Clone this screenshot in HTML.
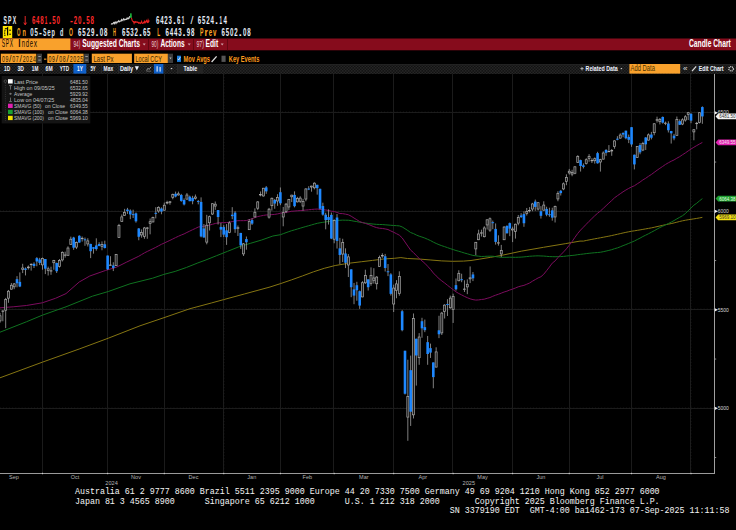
<!DOCTYPE html><html><head><meta charset="utf-8"><style>
html,body{margin:0;padding:0;background:#000;width:736px;height:530px;overflow:hidden}
svg{display:block}
text{font-family:"Liberation Sans",sans-serif}
.m{font-family:"Liberation Mono",monospace}
</style></head><body>
<svg width="736" height="530" viewBox="0 0 736 530">
<rect x="0" y="0" width="736" height="530" fill="#000"/>

<text x="3.4" y="24" font-size="11" fill="#e8eef8" font-weight="bold" textLength="3.4" lengthAdjust="spacingAndGlyphs">S</text>
<text x="8.05" y="24" font-size="11" fill="#e8eef8" font-weight="bold" textLength="3.4" lengthAdjust="spacingAndGlyphs">P</text>
<text x="12.7" y="24" font-size="11" fill="#e8eef8" font-weight="bold" textLength="3.4" lengthAdjust="spacingAndGlyphs">X</text>
<path d="M25.2 16 V24.6 M23.8 22.6 L25.2 24.8 L26.6 22.6" stroke="#ff2a2a" stroke-width="0.9" fill="none"/>
<text x="32" y="24" font-size="11" fill="#ff2a2a" font-weight="bold" textLength="3.4" lengthAdjust="spacingAndGlyphs">6</text>
<text x="36.07" y="24" font-size="11" fill="#ff2a2a" font-weight="bold" textLength="3.4" lengthAdjust="spacingAndGlyphs">4</text>
<text x="40.13" y="24" font-size="11" fill="#ff2a2a" font-weight="bold" textLength="3.4" lengthAdjust="spacingAndGlyphs">8</text>
<text x="44.63" y="24" font-size="11" fill="#ff2a2a" font-weight="bold" textLength="2.55" lengthAdjust="spacingAndGlyphs">1</text>
<text x="49.97" y="24" font-size="11" fill="#ff2a2a" font-weight="bold" text-anchor="middle">.</text>
<text x="52.33" y="24" font-size="11" fill="#ff2a2a" font-weight="bold" textLength="3.4" lengthAdjust="spacingAndGlyphs">5</text>
<text x="56.4" y="24" font-size="11" fill="#ff2a2a" font-weight="bold" textLength="3.4" lengthAdjust="spacingAndGlyphs">0</text>
<text x="69.96" y="24" font-size="11" fill="#ff2a2a" font-weight="bold" textLength="2.89" lengthAdjust="spacingAndGlyphs">-</text>
<text x="73.84" y="24" font-size="11" fill="#ff2a2a" font-weight="bold" textLength="3.4" lengthAdjust="spacingAndGlyphs">2</text>
<text x="77.98" y="24" font-size="11" fill="#ff2a2a" font-weight="bold" textLength="3.4" lengthAdjust="spacingAndGlyphs">0</text>
<text x="83.82" y="24" font-size="11" fill="#ff2a2a" font-weight="bold" text-anchor="middle">.</text>
<text x="86.26" y="24" font-size="11" fill="#ff2a2a" font-weight="bold" textLength="3.4" lengthAdjust="spacingAndGlyphs">5</text>
<text x="90.4" y="24" font-size="11" fill="#ff2a2a" font-weight="bold" textLength="3.4" lengthAdjust="spacingAndGlyphs">8</text>
<polyline points="111,23.73 111.5,24.1 112,23.61 112.5,23.85 113,23.71 113.5,22.52 114,22.24 114.5,23.55 115,22.33 115.5,22.1 116,23.29 116.5,22.17 117,22.65 117.5,21.82 118,21.93 118.5,20.87 119,21.56 119.5,21.8 120,21 120.5,21.21 121,20.91 121.5,19.64 122,20.7 122.5,20.22 123,19.52 123.5,18.86 124,20.18 124.5,19.29 125,19.55 125.5,19.66 126,19.19 126.5,19.38 127,18.25 127.5,18.8 128,17.98 128.5,18.68 129,18.4 129.5,16.82 130,16.7 130.2,17.4" fill="none" stroke="#d0d0d0" stroke-width="1.1"/>
<polyline points="130.4,17.6 130.9,13.4 131.4,17.8" fill="none" stroke="#20c040" stroke-width="1"/>
<polyline points="131.4,17.8 132.2,20.5 133.2,21.6 133.6,21.52 134.1,23.32 134.6,22.05 135.1,22.5 135.6,21.72 136.1,22.22 136.6,21.93 137.1,21.84 137.6,22.4 138.1,22.4 138.6,23.17 139.1,22.64 139.6,23.23 140.1,23.06 140.6,23.38 141.1,22.61 141.6,21.39 142.1,23.07 142.6,23.32 143.1,23.17 143.6,22.37 144.1,22.69 144.6,21.36 145.1,22.72 145.6,21.98 146.1,21.16 146.6,20.5 147.1,22.27 147.6,22.48 148.1,20.19 148.6,21.77 149.1,20.71 149.2,20.3" fill="none" stroke="#e82020" stroke-width="1.1"/>
<text x="155.9" y="24" font-size="11" fill="#e8eef8" font-weight="bold" textLength="3.4" lengthAdjust="spacingAndGlyphs">6</text>
<text x="160.13" y="24" font-size="11" fill="#e8eef8" font-weight="bold" textLength="3.4" lengthAdjust="spacingAndGlyphs">4</text>
<text x="164.37" y="24" font-size="11" fill="#e8eef8" font-weight="bold" textLength="3.4" lengthAdjust="spacingAndGlyphs">2</text>
<text x="168.6" y="24" font-size="11" fill="#e8eef8" font-weight="bold" textLength="3.4" lengthAdjust="spacingAndGlyphs">3</text>
<text x="174.53" y="24" font-size="11" fill="#e8eef8" font-weight="bold" text-anchor="middle">.</text>
<text x="177.07" y="24" font-size="11" fill="#e8eef8" font-weight="bold" textLength="3.4" lengthAdjust="spacingAndGlyphs">6</text>
<text x="181.72" y="24" font-size="11" fill="#e8eef8" font-weight="bold" textLength="2.55" lengthAdjust="spacingAndGlyphs">1</text>
<text x="190.45" y="24" font-size="11" fill="#e8eef8" font-weight="normal" textLength="2.89" lengthAdjust="spacingAndGlyphs">/</text>
<text x="197.7" y="24" font-size="11" fill="#e8eef8" font-weight="bold" textLength="3.4" lengthAdjust="spacingAndGlyphs">6</text>
<text x="202" y="24" font-size="11" fill="#e8eef8" font-weight="bold" textLength="3.4" lengthAdjust="spacingAndGlyphs">5</text>
<text x="206.3" y="24" font-size="11" fill="#e8eef8" font-weight="bold" textLength="3.4" lengthAdjust="spacingAndGlyphs">2</text>
<text x="210.6" y="24" font-size="11" fill="#e8eef8" font-weight="bold" textLength="3.4" lengthAdjust="spacingAndGlyphs">4</text>
<text x="216.6" y="24" font-size="11" fill="#e8eef8" font-weight="bold" text-anchor="middle">.</text>
<text x="219.62" y="24" font-size="11" fill="#e8eef8" font-weight="bold" textLength="2.55" lengthAdjust="spacingAndGlyphs">1</text>
<text x="223.5" y="24" font-size="11" fill="#e8eef8" font-weight="bold" textLength="3.4" lengthAdjust="spacingAndGlyphs">4</text>
<rect x="2.8" y="26" width="9.4" height="12" fill="#ffe400"/>
<path d="M5.6 28.2 Q4.1 31.8 5.0 35.8" stroke="#000" stroke-width="1.1" fill="none" stroke-dasharray="1.1 0.6"/>
<path d="M6.4 29.2 L7.6 27.8 V35.6" stroke="#000" stroke-width="1.2" fill="none"/>
<rect x="9.4" y="29.6" width="1.3" height="1.3" fill="#000"/><rect x="9.4" y="33.6" width="1.3" height="1.3" fill="#000"/>
<text x="17" y="35.8" font-size="11" fill="#ffa424" font-weight="bold" textLength="3.4" lengthAdjust="spacingAndGlyphs">O</text>
<text x="22.4" y="35.8" font-size="11" fill="#ffa424" font-weight="bold" textLength="3.4" lengthAdjust="spacingAndGlyphs">n</text>
<text x="30.2" y="35.8" font-size="11" fill="#dfe6f0" font-weight="bold" textLength="3.4" lengthAdjust="spacingAndGlyphs">0</text>
<text x="34.47" y="35.8" font-size="11" fill="#dfe6f0" font-weight="bold" textLength="3.4" lengthAdjust="spacingAndGlyphs">5</text>
<text x="39" y="35.8" font-size="11" fill="#dfe6f0" font-weight="bold" textLength="2.89" lengthAdjust="spacingAndGlyphs">-</text>
<text x="43.01" y="35.8" font-size="11" fill="#dfe6f0" font-weight="bold" textLength="3.4" lengthAdjust="spacingAndGlyphs">S</text>
<text x="47.29" y="35.8" font-size="11" fill="#dfe6f0" font-weight="bold" textLength="3.4" lengthAdjust="spacingAndGlyphs">e</text>
<text x="51.56" y="35.8" font-size="11" fill="#dfe6f0" font-weight="bold" textLength="3.4" lengthAdjust="spacingAndGlyphs">p</text>
<text x="60.1" y="35.8" font-size="11" fill="#dfe6f0" font-weight="bold" textLength="3.4" lengthAdjust="spacingAndGlyphs">d</text>
<text x="69.1" y="35.8" font-size="11" fill="#ffa424" font-weight="bold" textLength="3.9" lengthAdjust="spacingAndGlyphs">O</text>
<text x="78" y="35.8" font-size="11" fill="#e8eef8" font-weight="bold" textLength="3.4" lengthAdjust="spacingAndGlyphs">6</text>
<text x="82.33" y="35.8" font-size="11" fill="#e8eef8" font-weight="bold" textLength="3.4" lengthAdjust="spacingAndGlyphs">5</text>
<text x="86.67" y="35.8" font-size="11" fill="#e8eef8" font-weight="bold" textLength="3.4" lengthAdjust="spacingAndGlyphs">2</text>
<text x="91" y="35.8" font-size="11" fill="#e8eef8" font-weight="bold" textLength="3.4" lengthAdjust="spacingAndGlyphs">9</text>
<text x="97.03" y="35.8" font-size="11" fill="#e8eef8" font-weight="bold" text-anchor="middle">.</text>
<text x="99.67" y="35.8" font-size="11" fill="#e8eef8" font-weight="bold" textLength="3.4" lengthAdjust="spacingAndGlyphs">0</text>
<text x="104" y="35.8" font-size="11" fill="#e8eef8" font-weight="bold" textLength="3.4" lengthAdjust="spacingAndGlyphs">8</text>
<text x="113" y="35.8" font-size="11" fill="#ffa424" font-weight="bold" textLength="2.9" lengthAdjust="spacingAndGlyphs">H</text>
<text x="122" y="35.8" font-size="11" fill="#e8eef8" font-weight="bold" textLength="3.4" lengthAdjust="spacingAndGlyphs">6</text>
<text x="126.18" y="35.8" font-size="11" fill="#e8eef8" font-weight="bold" textLength="3.4" lengthAdjust="spacingAndGlyphs">5</text>
<text x="130.37" y="35.8" font-size="11" fill="#e8eef8" font-weight="bold" textLength="3.4" lengthAdjust="spacingAndGlyphs">3</text>
<text x="134.55" y="35.8" font-size="11" fill="#e8eef8" font-weight="bold" textLength="3.4" lengthAdjust="spacingAndGlyphs">2</text>
<text x="140.43" y="35.8" font-size="11" fill="#e8eef8" font-weight="bold" text-anchor="middle">.</text>
<text x="142.92" y="35.8" font-size="11" fill="#e8eef8" font-weight="bold" textLength="3.4" lengthAdjust="spacingAndGlyphs">6</text>
<text x="147.1" y="35.8" font-size="11" fill="#e8eef8" font-weight="bold" textLength="3.4" lengthAdjust="spacingAndGlyphs">5</text>
<text x="157.3" y="35.8" font-size="11" fill="#ffa424" font-weight="bold" textLength="2.9" lengthAdjust="spacingAndGlyphs">L</text>
<text x="165.4" y="35.8" font-size="11" fill="#e8eef8" font-weight="bold" textLength="3.4" lengthAdjust="spacingAndGlyphs">6</text>
<text x="169.65" y="35.8" font-size="11" fill="#e8eef8" font-weight="bold" textLength="3.4" lengthAdjust="spacingAndGlyphs">4</text>
<text x="173.9" y="35.8" font-size="11" fill="#e8eef8" font-weight="bold" textLength="3.4" lengthAdjust="spacingAndGlyphs">4</text>
<text x="178.15" y="35.8" font-size="11" fill="#e8eef8" font-weight="bold" textLength="3.4" lengthAdjust="spacingAndGlyphs">3</text>
<text x="184.1" y="35.8" font-size="11" fill="#e8eef8" font-weight="bold" text-anchor="middle">.</text>
<text x="186.65" y="35.8" font-size="11" fill="#e8eef8" font-weight="bold" textLength="3.4" lengthAdjust="spacingAndGlyphs">9</text>
<text x="190.9" y="35.8" font-size="11" fill="#e8eef8" font-weight="bold" textLength="3.4" lengthAdjust="spacingAndGlyphs">8</text>
<text x="200.1" y="35.8" font-size="11" fill="#ffa424" font-weight="bold" textLength="3.4" lengthAdjust="spacingAndGlyphs">P</text>
<text x="204.4" y="35.8" font-size="11" fill="#ffa424" font-weight="bold" textLength="3.4" lengthAdjust="spacingAndGlyphs">r</text>
<text x="208.7" y="35.8" font-size="11" fill="#ffa424" font-weight="bold" textLength="3.4" lengthAdjust="spacingAndGlyphs">e</text>
<text x="213" y="35.8" font-size="11" fill="#ffa424" font-weight="bold" textLength="3.4" lengthAdjust="spacingAndGlyphs">v</text>
<text x="221.4" y="35.8" font-size="11" fill="#e8eef8" font-weight="bold" textLength="3.4" lengthAdjust="spacingAndGlyphs">6</text>
<text x="225.72" y="35.8" font-size="11" fill="#e8eef8" font-weight="bold" textLength="3.4" lengthAdjust="spacingAndGlyphs">5</text>
<text x="230.03" y="35.8" font-size="11" fill="#e8eef8" font-weight="bold" textLength="3.4" lengthAdjust="spacingAndGlyphs">0</text>
<text x="234.35" y="35.8" font-size="11" fill="#e8eef8" font-weight="bold" textLength="3.4" lengthAdjust="spacingAndGlyphs">2</text>
<text x="240.37" y="35.8" font-size="11" fill="#e8eef8" font-weight="bold" text-anchor="middle">.</text>
<text x="242.98" y="35.8" font-size="11" fill="#e8eef8" font-weight="bold" textLength="3.4" lengthAdjust="spacingAndGlyphs">0</text>
<text x="247.3" y="35.8" font-size="11" fill="#e8eef8" font-weight="bold" textLength="3.4" lengthAdjust="spacingAndGlyphs">8</text>
<rect x="0" y="38.5" width="736" height="11.8" fill="#860c1c"/>
<rect x="0" y="38.5" width="70.4" height="11.6" fill="#f9a12c"/>
<text x="1.8" y="47.3" font-size="10.5" fill="#100800" font-weight="normal" textLength="3.3" lengthAdjust="spacingAndGlyphs">S</text>
<text x="5.79" y="47.3" font-size="10.5" fill="#100800" font-weight="normal" textLength="3.3" lengthAdjust="spacingAndGlyphs">P</text>
<text x="9.78" y="47.3" font-size="10.5" fill="#100800" font-weight="normal" textLength="3.3" lengthAdjust="spacingAndGlyphs">X</text>
<text x="17.75" y="47.3" font-size="10.5" fill="#100800" font-weight="normal" textLength="3.3" lengthAdjust="spacingAndGlyphs">I</text>
<text x="21.74" y="47.3" font-size="10.5" fill="#100800" font-weight="normal" textLength="3.3" lengthAdjust="spacingAndGlyphs">n</text>
<text x="25.73" y="47.3" font-size="10.5" fill="#100800" font-weight="normal" textLength="3.3" lengthAdjust="spacingAndGlyphs">d</text>
<text x="29.71" y="47.3" font-size="10.5" fill="#100800" font-weight="normal" textLength="3.3" lengthAdjust="spacingAndGlyphs">e</text>
<text x="33.7" y="47.3" font-size="10.5" fill="#100800" font-weight="normal" textLength="3.3" lengthAdjust="spacingAndGlyphs">x</text>
<rect x="148.1" y="38.5" width="0.8" height="11.8" fill="#5a0610"/>
<rect x="193.1" y="38.5" width="0.8" height="11.8" fill="#5a0610"/>
<rect x="227" y="38.5" width="0.8" height="11.8" fill="#5a0610"/>
<text x="73.5" y="47.4" font-size="9" fill="#e8c8d0" font-weight="normal" textLength="6.8" lengthAdjust="spacingAndGlyphs" >94)</text>
<text x="82.3" y="47.1" font-size="11" fill="#fff" font-weight="bold" textLength="57.7" lengthAdjust="spacingAndGlyphs" >Suggested Charts</text>
<text x="151.5" y="47.4" font-size="9" fill="#e8c8d0" font-weight="normal" textLength="6.8" lengthAdjust="spacingAndGlyphs" >90)</text>
<text x="160.4" y="47.1" font-size="11" fill="#fff" font-weight="bold" textLength="24.2" lengthAdjust="spacingAndGlyphs" >Actions</text>
<text x="196.4" y="47.4" font-size="9" fill="#e8c8d0" font-weight="normal" textLength="7.5" lengthAdjust="spacingAndGlyphs" >97)</text>
<text x="205.5" y="47.1" font-size="11" fill="#fff" font-weight="bold" textLength="12.6" lengthAdjust="spacingAndGlyphs" >Edit</text>
<path d="M142.7 43.6 L145.7 43.6 L144.2 45.6 Z" fill="#d0a0a8"/>
<path d="M187.7 43.6 L190.7 43.6 L189.2 45.6 Z" fill="#d0a0a8"/>
<path d="M220.7 43.6 L223.7 43.6 L222.2 45.6 Z" fill="#d0a0a8"/>
<text x="689" y="47.1" font-size="11" fill="#fff" font-weight="bold" textLength="41.8" lengthAdjust="spacingAndGlyphs" >Candle Chart</text>
<rect x="0.8" y="53.7" width="35.5" height="9.3" fill="#f9a12c"/>
<text x="2" y="61.8" font-size="9" fill="#2e1e00" font-weight="normal" textLength="2.9" lengthAdjust="spacingAndGlyphs">0</text>
<text x="5.44" y="61.8" font-size="9" fill="#2e1e00" font-weight="normal" textLength="2.9" lengthAdjust="spacingAndGlyphs">9</text>
<text x="9.11" y="61.8" font-size="9" fill="#2e1e00" font-weight="normal" textLength="2.46" lengthAdjust="spacingAndGlyphs">/</text>
<text x="12.33" y="61.8" font-size="9" fill="#2e1e00" font-weight="normal" textLength="2.9" lengthAdjust="spacingAndGlyphs">0</text>
<text x="15.78" y="61.8" font-size="9" fill="#2e1e00" font-weight="normal" textLength="2.9" lengthAdjust="spacingAndGlyphs">7</text>
<text x="19.44" y="61.8" font-size="9" fill="#2e1e00" font-weight="normal" textLength="2.46" lengthAdjust="spacingAndGlyphs">/</text>
<text x="22.67" y="61.8" font-size="9" fill="#2e1e00" font-weight="normal" textLength="2.9" lengthAdjust="spacingAndGlyphs">2</text>
<text x="26.11" y="61.8" font-size="9" fill="#2e1e00" font-weight="normal" textLength="2.9" lengthAdjust="spacingAndGlyphs">0</text>
<text x="29.56" y="61.8" font-size="9" fill="#2e1e00" font-weight="normal" textLength="2.9" lengthAdjust="spacingAndGlyphs">2</text>
<text x="33" y="61.8" font-size="9" fill="#2e1e00" font-weight="normal" textLength="2.9" lengthAdjust="spacingAndGlyphs">4</text>
<rect x="37.1" y="53.7" width="4.9" height="9.3" fill="#3c3c3c"/><rect x="38.3" y="56" width="2.5" height="1" fill="#999"/><rect x="38.3" y="59.6" width="2.5" height="1" fill="#999"/>
<rect x="44" y="58.6" width="2.4" height="1.1" fill="#f9a12c"/>
<rect x="47.3" y="53.7" width="36.3" height="9.3" fill="#f9a12c"/>
<text x="48.6" y="61.8" font-size="9" fill="#2e1e00" font-weight="normal" textLength="2.9" lengthAdjust="spacingAndGlyphs">0</text>
<text x="52.12" y="61.8" font-size="9" fill="#2e1e00" font-weight="normal" textLength="2.9" lengthAdjust="spacingAndGlyphs">9</text>
<text x="55.86" y="61.8" font-size="9" fill="#2e1e00" font-weight="normal" textLength="2.46" lengthAdjust="spacingAndGlyphs">/</text>
<text x="59.17" y="61.8" font-size="9" fill="#2e1e00" font-weight="normal" textLength="2.9" lengthAdjust="spacingAndGlyphs">0</text>
<text x="62.69" y="61.8" font-size="9" fill="#2e1e00" font-weight="normal" textLength="2.9" lengthAdjust="spacingAndGlyphs">8</text>
<text x="66.43" y="61.8" font-size="9" fill="#2e1e00" font-weight="normal" textLength="2.46" lengthAdjust="spacingAndGlyphs">/</text>
<text x="69.73" y="61.8" font-size="9" fill="#2e1e00" font-weight="normal" textLength="2.9" lengthAdjust="spacingAndGlyphs">2</text>
<text x="73.26" y="61.8" font-size="9" fill="#2e1e00" font-weight="normal" textLength="2.9" lengthAdjust="spacingAndGlyphs">0</text>
<text x="76.78" y="61.8" font-size="9" fill="#2e1e00" font-weight="normal" textLength="2.9" lengthAdjust="spacingAndGlyphs">2</text>
<text x="80.3" y="61.8" font-size="9" fill="#2e1e00" font-weight="normal" textLength="2.9" lengthAdjust="spacingAndGlyphs">5</text>
<rect x="84.1" y="53.7" width="4.9" height="9.3" fill="#3c3c3c"/><rect x="85.3" y="56" width="2.5" height="1" fill="#999"/><rect x="85.3" y="59.6" width="2.5" height="1" fill="#999"/>
<rect x="91.8" y="53.7" width="40.1" height="9.3" fill="#f9a12c"/>
<text x="93.5" y="61.8" font-size="9" fill="#3a2600" font-weight="normal" textLength="20" lengthAdjust="spacingAndGlyphs" >Last Px</text>
<rect x="134.2" y="53.7" width="33.7" height="9.3" fill="#f9a12c"/>
<text x="135.5" y="61.8" font-size="9" fill="#3a2600" font-weight="normal" textLength="26.5" lengthAdjust="spacingAndGlyphs" >Local CCY</text>
<rect x="167.9" y="53.7" width="5.1" height="9.3" fill="#3c3c3c"/><path d="M169.4 57.6 L171.6 57.6 L170.5 59.2 Z" fill="#bbb"/>
<rect x="177" y="55.7" width="4" height="6.2" fill="#1a7fe0"/><path d="M177.8 58.8 L178.8 60 L180.3 57" stroke="#fff" stroke-width="0.7" fill="none"/>
<text x="183.5" y="61.8" font-size="9" fill="#ff9c1c" font-weight="bold" textLength="26.5" lengthAdjust="spacingAndGlyphs" >Mov Avgs</text>
<path d="M211.6 62 L216.6 56.4" stroke="#ddd" stroke-width="1.3"/>
<rect x="221.5" y="55.7" width="4.1" height="6.2" fill="#555"/>
<text x="228.8" y="61.8" font-size="9" fill="#ff9c1c" font-weight="bold" textLength="30.6" lengthAdjust="spacingAndGlyphs" >Key Events</text>
<defs><pattern id="chk" x="0" y="64.2" width="3" height="3" patternUnits="userSpaceOnUse"><rect width="3" height="3" fill="#0e0e0e"/><rect x="0" y="0" width="1.5" height="1.5" fill="#2a2a2a"/><rect x="1.5" y="1.5" width="1.5" height="1.5" fill="#2a2a2a"/></pattern></defs>
<rect x="0" y="64.2" width="736" height="9.8" fill="url(#chk)"/>
<rect x="0" y="64.2" width="736" height="0.8" fill="#262626"/>
<rect x="73.4" y="64" width="12.9" height="9.6" fill="#1060c8"/>
<rect x="153.9" y="64" width="9.5" height="9.6" fill="#1060c8"/>
<rect x="177.5" y="64" width="25.8" height="9.6" fill="#242424"/>
<rect x="100.9" y="64" width="0.8" height="9.6" fill="#2e2e2e"/>
<rect x="118.1" y="64" width="0.8" height="9.6" fill="#2e2e2e"/>
<rect x="164.5" y="64" width="0.8" height="9.6" fill="#2e2e2e"/>
<rect x="177" y="64" width="0.8" height="9.6" fill="#2e2e2e"/>
<text x="4.1" y="70.9" font-size="7" fill="#f0f4ff" font-weight="bold" textLength="6.1" lengthAdjust="spacingAndGlyphs" >1D</text>
<text x="17.5" y="70.9" font-size="7" fill="#f0f4ff" font-weight="bold" textLength="6.5" lengthAdjust="spacingAndGlyphs" >3D</text>
<text x="31.8" y="70.9" font-size="7" fill="#f0f4ff" font-weight="bold" textLength="6.5" lengthAdjust="spacingAndGlyphs" >1M</text>
<text x="45.6" y="70.9" font-size="7" fill="#f0f4ff" font-weight="bold" textLength="7" lengthAdjust="spacingAndGlyphs" >6M</text>
<text x="59.8" y="70.9" font-size="7" fill="#f0f4ff" font-weight="bold" textLength="9.2" lengthAdjust="spacingAndGlyphs" >YTD</text>
<text x="77" y="70.9" font-size="7" fill="#f0f4ff" font-weight="bold" textLength="5.9" lengthAdjust="spacingAndGlyphs" >1Y</text>
<text x="90.4" y="70.9" font-size="7" fill="#f0f4ff" font-weight="bold" textLength="5.4" lengthAdjust="spacingAndGlyphs" >5Y</text>
<text x="103.6" y="70.9" font-size="7" fill="#f0f4ff" font-weight="bold" textLength="9.5" lengthAdjust="spacingAndGlyphs" >Max</text>
<text x="119.9" y="70.9" font-size="7" fill="#f0f4ff" font-weight="bold" textLength="13.3" lengthAdjust="spacingAndGlyphs" >Daily</text>
<text x="183.6" y="70.9" font-size="7" fill="#f0f4ff" font-weight="bold" textLength="13.6" lengthAdjust="spacingAndGlyphs" >Table</text>
<path d="M134.8 66.2 L138.9 66.2 L136.85 70.6 Z" fill="#f0f4ff"/>
<path d="M146.6 70.6 L148 68.2 L149.2 69.4 L151 66.8" stroke="#aaa" stroke-width="0.8" fill="none"/><path d="M146.4 71.2 L151.2 71.2" stroke="#888" stroke-width="0.6"/>
<rect x="156.6" y="66.2" width="1" height="5.4" fill="#fff"/><rect x="159.6" y="67" width="1" height="4.6" fill="#fff"/>
<path d="M170.4 68 L172.6 68 L171.5 69.6 Z" fill="#ccc"/>
<rect x="580.4" y="68.3" width="3.2" height="0.8" fill="#ccc"/><rect x="581.6" y="67" width="0.8" height="3.4" fill="#ccc"/>
<text x="585.6" y="70.9" font-size="7" fill="#f0f4ff" font-weight="bold" textLength="32" lengthAdjust="spacingAndGlyphs" >Related Data</text>
<path d="M620.4 68 L622.4 68 L621.4 69.6 Z" fill="#ccc"/>
<rect x="629.4" y="64" width="50.8" height="9.6" fill="#f9a12c"/>
<text x="630.5" y="71.3" font-size="8.5" fill="#4a3200" font-weight="normal" textLength="24.4" lengthAdjust="spacingAndGlyphs" >Add Data</text>
<text x="682.9" y="70.9" font-size="8" fill="#ddd" font-weight="normal" textLength="4.5" lengthAdjust="spacingAndGlyphs" >&#171;</text>
<path d="M692 71.2 L696.2 66.4" stroke="#ddd" stroke-width="1.2"/>
<text x="698.8" y="70.9" font-size="7" fill="#f0f4ff" font-weight="bold" textLength="24.8" lengthAdjust="spacingAndGlyphs" >Edit Chart</text>
<circle cx="731.1" cy="68.8" r="2.2" fill="none" stroke="#ddd" stroke-width="1.3" stroke-dasharray="1 0.7"/>
<defs><clipPath id="cp"><rect x="0" y="74" width="714.3" height="399"/></clipPath></defs>
<line x1="0" y1="112.5" x2="714" y2="112.5" stroke="#1b1b1b" stroke-width="1"/>
<line x1="0" y1="111.9" x2="714" y2="111.9" stroke="#2c2c2c" stroke-width="0.6" stroke-dasharray="0.7 2.4"/>
<line x1="0" y1="211.5" x2="714" y2="211.5" stroke="#1b1b1b" stroke-width="1"/>
<line x1="0" y1="210.9" x2="714" y2="210.9" stroke="#2c2c2c" stroke-width="0.6" stroke-dasharray="0.7 2.4"/>
<line x1="0" y1="309.5" x2="714" y2="309.5" stroke="#1b1b1b" stroke-width="1"/>
<line x1="0" y1="308.9" x2="714" y2="308.9" stroke="#2c2c2c" stroke-width="0.6" stroke-dasharray="0.7 2.4"/>
<line x1="0" y1="408.5" x2="714" y2="408.5" stroke="#1b1b1b" stroke-width="1"/>
<line x1="0" y1="407.9" x2="714" y2="407.9" stroke="#2c2c2c" stroke-width="0.6" stroke-dasharray="0.7 2.4"/>
<line x1="42.5" y1="74" x2="42.5" y2="473" stroke="#1b1b1b" stroke-width="1"/>
<line x1="107.5" y1="74" x2="107.5" y2="473" stroke="#1b1b1b" stroke-width="1"/>
<line x1="164.5" y1="74" x2="164.5" y2="473" stroke="#1b1b1b" stroke-width="1"/>
<line x1="223.5" y1="74" x2="223.5" y2="473" stroke="#1b1b1b" stroke-width="1"/>
<line x1="224.1" y1="74" x2="224.1" y2="473" stroke="#2c2c2c" stroke-width="0.6" stroke-dasharray="0.7 2.4"/>
<line x1="280.5" y1="74" x2="280.5" y2="473" stroke="#1b1b1b" stroke-width="1"/>
<line x1="333.5" y1="74" x2="333.5" y2="473" stroke="#1b1b1b" stroke-width="1"/>
<line x1="393.5" y1="74" x2="393.5" y2="473" stroke="#1b1b1b" stroke-width="1"/>
<line x1="452.5" y1="74" x2="452.5" y2="473" stroke="#1b1b1b" stroke-width="1"/>
<line x1="512.5" y1="74" x2="512.5" y2="473" stroke="#1b1b1b" stroke-width="1"/>
<line x1="569.5" y1="74" x2="569.5" y2="473" stroke="#1b1b1b" stroke-width="1"/>
<line x1="631.5" y1="74" x2="631.5" y2="473" stroke="#1b1b1b" stroke-width="1"/>
<line x1="690.5" y1="74" x2="690.5" y2="473" stroke="#1b1b1b" stroke-width="1"/>
<line x1="691.1" y1="74" x2="691.1" y2="473" stroke="#2c2c2c" stroke-width="0.6" stroke-dasharray="0.7 2.4"/>
<polyline points="0,377.8 42.3,362.2 79.2,349 108.3,338.2 140,325.8 163,318 190,308.7 211.7,302.9 223.7,299.6 244.3,294 270,287 280.9,283.5 291.7,279.8 302.6,275.9 313.5,271.8 324.3,268.3 335.2,265.5 346,263.7 350.9,263 361.7,261.7 372.6,260.4 383.5,259 394.3,258.3 400.9,257.6 407.4,258.5 420,259.1 430.9,260 441.7,260.9 452.6,261.3 463.5,261.1 471,260.5 479.8,259.1 490.7,257.3 500,255.7 521.7,251.1 543.5,247.3 565.2,243.7 580,241.1 583.41,241.1 586.24,240.47 589.08,239.91 591.91,239.36 594.74,238.82 597.57,238.32 600.4,237.78 603.24,237.24 606.07,236.69 608.9,236.15 611.73,235.56 614.56,234.92 617.4,234.27 620.23,233.64 623.06,232.96 625.89,232.35 628.72,231.79 631.56,231.23 634.39,230.82 637.22,230.35 640.05,229.88 642.88,229.38 645.72,228.89 648.55,228.38 651.38,227.86 654.21,227.28 657.04,226.62 659.88,225.97 662.71,225.34 665.54,224.72 668.37,224.15 671.2,223.58 674.04,222.92 676.87,222.2 679.7,221.48 682.53,220.81 685.36,220.26 688.2,219.74 691.03,219.29 693.86,218.88 696.69,218.42 699.52,217.91 702.36,217.39" fill="none" stroke="#857512" stroke-width="1" clip-path="url(#cp)"/>
<polyline points="0,332.2 26.4,321.8 42.3,315.2 66,306.8 92.4,296.2 108.3,291.5 130,283.8 152.6,278.2 163.9,274.4 175.2,271.4 186.6,267.4 197.9,262.9 205,260.3 216.3,255.8 227.6,251.3 238.9,246.8 250.2,243.4 261.6,240 272.9,236 280.39,234.73 283.22,233.7 286.05,232.63 288.88,231.63 291.72,230.67 294.55,229.88 297.38,229.03 300.21,228.18 303.04,227.32 305.88,226.53 308.71,225.72 311.54,224.91 314.37,224.1 317.2,223.32 320.04,222.79 322.87,222.31 325.7,221.93 328.53,221.44 331.36,221.14 334.2,220.64 337.03,220.45 339.86,220.29 342.69,220.11 345.52,220.21 348.36,220.23 351.19,220.63 354.02,221.19 356.85,221.62 359.68,222.25 362.52,222.65 365.35,223.02 368.18,223.49 371.01,223.84 373.84,224.11 376.68,224.39 379.51,224.47 382.34,224.56 385.17,224.8 388,225.03 390.84,225.28 393.67,225.51 396.5,225.67 399.33,225.89 402.16,226.93 405,228.71 407.83,230.54 410.66,232.55 413.49,233.59 416.32,235 419.16,236.16 421.99,237.07 424.82,238.05 427.65,239.31 430.48,240.56 433.32,242.12 436.15,243.46 438.98,244.67 441.81,245.73 444.64,246.66 447.48,247.65 450.31,248.61 453.14,249.56 455.97,250.51 458.8,251.27 461.64,252.14 464.47,253.02 467.3,253.81 470.13,254.64 472.96,255.41 475.8,255.82 478.63,256.19 481.46,256.5 484.29,256.41 487.12,256.23 489.96,256.17 492.79,256.23 495.62,256.62 498.45,257 501.28,257.33 504.12,257.31 506.95,257.29 509.78,257.21 512.61,257.27 515.44,257.34 518.28,257.22 521.11,257.12 523.94,256.9 526.77,256.58 529.6,256.25 532.44,256.08 535.27,255.91 538.1,255.82 540.93,255.96 543.76,256.06 546.6,256.33 549.43,256.57 552.26,256.66 555.09,256.74 557.92,256.64 560.76,256.59 563.59,256.4 566.42,256.04 569.25,255.72 572.08,255.45 574.92,255.16 577.75,254.66 580.58,254.34 583.41,254.03 586.24,253.62 589.08,253.29 591.91,253 594.74,252.73 597.57,252.53 600.4,252.25 603.24,251.69 606.07,251.07 608.9,250.38 611.73,249.68 614.56,248.7 617.4,247.9 620.23,246.84 623.06,245.63 625.89,244.59 628.72,243.36 631.56,242.24 634.39,241.01 637.22,239.52 640.05,238.14 642.88,236.52 645.72,235.14 648.55,233.73 651.38,232.23 654.21,230.72 657.04,229.13 659.88,227.55 662.71,226.21 665.54,224.89 668.37,223.51 671.2,222.12 674.04,220.57 676.87,218.88 679.7,217.3 682.53,215.73 685.36,213.59 688.2,210.78 691.03,208.03 693.86,205.2 696.69,203.25 699.52,200.82 702.36,198.62" fill="none" stroke="#0f7220" stroke-width="1" clip-path="url(#cp)"/>
<polyline points="0,307.8 13.2,306.8 26.4,305.5 42.3,302.8 55.5,298.3 66,293.6 79.2,282 89.8,276 105.7,270.4 116.2,267.3 126.8,262 138.79,256.22 141.62,254.55 144.45,252.89 147.28,251.46 150.12,250.07 152.95,248.72 155.78,247.32 158.61,245.8 161.44,244.3 164.28,243.04 167.11,241.68 169.94,240.38 172.77,238.98 175.6,237.59 178.44,236.24 181.27,235 184.1,233.92 186.93,232.44 189.76,231.1 192.6,229.71 195.43,228.44 198.26,227.04 201.09,226.57 203.92,226.27 206.76,225.68 209.59,225.05 212.42,224.34 215.25,223.46 218.08,222.96 220.92,222.7 223.75,222.63 226.58,222.58 229.41,222.22 232.24,221.52 235.08,221.12 237.91,220.69 240.74,220.68 243.57,220.66 246.4,220.55 249.24,219.59 252.07,218.76 254.9,217.64 257.73,216.59 260.56,215.97 263.4,215.4 266.23,214.98 269.06,214.94 271.89,214.61 274.72,214.4 277.56,213.92 280.39,213.25 283.22,212.85 286.05,212.38 288.88,211.81 291.72,211.27 294.55,211.05 297.38,210.74 300.21,210.56 303.04,210.35 305.88,210.02 308.71,209.75 311.54,209.44 314.37,209.21 317.2,209.05 320.04,209.35 322.87,209.62 325.7,209.94 328.53,210.44 331.36,211.19 334.2,211.57 337.03,212.45 339.86,213.53 342.69,213.64 345.52,214.15 348.36,214.78 351.19,216.2 354.02,218.04 356.85,219.77 359.68,221.54 362.52,222.6 365.35,223.41 368.18,224.41 371.01,225.46 373.84,226.7 376.68,227.65 379.51,228.24 382.34,228.44 385.17,228.93 388,229.52 390.84,230.97 393.67,232.25 396.5,233.69 399.33,235.18 402.16,237.89 405,242.01 407.83,246.1 410.66,250.16 413.49,252.57 416.32,255.61 419.16,258.39 421.99,260.89 424.82,263.25 427.65,266.25 430.48,269.32 433.32,272.97 436.15,275.88 438.98,278.6 441.81,280.9 444.64,282.97 447.48,285.28 450.31,287.46 453.14,289.67 455.97,291.8 458.8,293.5 461.64,294.93 464.47,296.41 467.3,297.69 470.13,298.84 472.96,299.63 475.8,300.07 478.63,299.92 481.46,299.47 484.29,299.18 487.12,298.31 489.96,297.55 492.79,296.27 495.62,295.19 498.45,294.24 501.28,293.13 504.12,292.01 506.95,291.17 509.78,290 512.61,289.07 515.44,287.99 518.28,286.8 521.11,286 523.94,285.36 526.77,284.22 529.6,282.99 532.44,281.19 535.27,279.57 538.1,277.95 540.93,276.74 543.76,274.23 546.6,270.65 549.43,267.03 552.26,263.15 555.09,260.91 557.92,257.67 560.76,254.79 563.59,251.9 566.42,248.84 569.25,245.18 572.08,241.57 574.92,237.36 577.75,233.45 580.58,230.09 583.41,227.17 586.24,224.26 589.08,221.3 591.91,218.55 594.74,215.79 597.57,213.27 600.4,211 603.24,208.45 606.07,205.73 608.9,203.07 611.73,200.53 614.56,197.77 617.4,195.73 620.23,193.75 623.06,191.79 625.89,190 628.72,188.41 631.56,186.93 634.39,185.76 637.22,183.84 640.05,182.04 642.88,179.91 645.72,178.26 648.55,176.28 651.38,174.47 654.21,172.36 657.04,170.27 659.88,168.31 662.71,166.42 665.54,164.41 668.37,162.79 671.2,161.26 674.04,159.95 676.87,158.2 679.7,156.65 682.53,154.72 685.36,152.95 688.2,150.91 691.03,149.02 693.86,147.26 696.69,145.59 699.52,143.97 702.36,142.44" fill="none" stroke="#7c0c5e" stroke-width="1" clip-path="url(#cp)"/>
<g clip-path="url(#cp)">
<line x1="0.02" y1="312.91" x2="0.02" y2="322.71" stroke="#a0a0a0" stroke-width="0.8"/>
<rect x="-0.98" y="315.8" width="2.0" height="5.11" fill="#1c1c1c" stroke="#a8a8a8" stroke-width="0.7"/>
<line x1="2.85" y1="310.21" x2="2.85" y2="321.28" stroke="#a0a0a0" stroke-width="0.8"/>
<rect x="1.85" y="310.98" width="2.0" height="0.4" fill="#1c1c1c" stroke="#a8a8a8" stroke-width="0.7"/>
<line x1="5.68" y1="297.9" x2="5.68" y2="328.13" stroke="#a0a0a0" stroke-width="0.8"/>
<rect x="4.68" y="299.44" width="2.0" height="10.77" fill="#1c1c1c" stroke="#a8a8a8" stroke-width="0.7"/>
<line x1="8.52" y1="289.96" x2="8.52" y2="302.81" stroke="#a0a0a0" stroke-width="0.8"/>
<rect x="7.52" y="291.24" width="2.0" height="6.94" fill="#1c1c1c" stroke="#a8a8a8" stroke-width="0.7"/>
<line x1="11.35" y1="282.95" x2="11.35" y2="289.77" stroke="#a0a0a0" stroke-width="0.8"/>
<rect x="10.35" y="285.27" width="2.0" height="3.87" fill="#1c1c1c" stroke="#a8a8a8" stroke-width="0.7"/>
<line x1="14.18" y1="283" x2="14.18" y2="289.21" stroke="#a0a0a0" stroke-width="0.8"/>
<rect x="13.18" y="283.88" width="2.0" height="2.94" fill="#1c1c1c" stroke="#a8a8a8" stroke-width="0.7"/>
<line x1="17.01" y1="276.15" x2="17.01" y2="287.33" stroke="#a0a0a0" stroke-width="0.8"/>
<rect x="15.71" y="279.16" width="2.6" height="4.12" fill="#1e88ff"/>
<line x1="19.84" y1="272.42" x2="19.84" y2="287.13" stroke="#a0a0a0" stroke-width="0.8"/>
<rect x="18.54" y="281.89" width="2.6" height="4.61" fill="#1e88ff"/>
<line x1="22.68" y1="263.79" x2="22.68" y2="273.08" stroke="#a0a0a0" stroke-width="0.8"/>
<rect x="21.68" y="268.01" width="2.0" height="1.57" fill="#1c1c1c" stroke="#a8a8a8" stroke-width="0.7"/>
<line x1="25.51" y1="267.42" x2="25.51" y2="275.43" stroke="#a0a0a0" stroke-width="0.8"/>
<rect x="24.21" y="268.51" width="2.6" height="1.39" fill="#1e88ff"/>
<line x1="28.34" y1="265.4" x2="28.34" y2="269.57" stroke="#a0a0a0" stroke-width="0.8"/>
<rect x="27.34" y="267.04" width="2.0" height="0.71" fill="#1c1c1c" stroke="#a8a8a8" stroke-width="0.7"/>
<line x1="31.17" y1="263.44" x2="31.17" y2="270.6" stroke="#a0a0a0" stroke-width="0.8"/>
<rect x="30.17" y="264.21" width="2.0" height="0.51" fill="#1c1c1c" stroke="#a8a8a8" stroke-width="0.7"/>
<line x1="34" y1="262.32" x2="34" y2="268.02" stroke="#a0a0a0" stroke-width="0.8"/>
<rect x="32.7" y="263.77" width="2.6" height="2.24" fill="#1e88ff"/>
<line x1="36.84" y1="257.13" x2="36.84" y2="266.26" stroke="#a0a0a0" stroke-width="0.8"/>
<rect x="35.54" y="258.14" width="2.6" height="3.32" fill="#1e88ff"/>
<line x1="39.67" y1="257.84" x2="39.67" y2="265.01" stroke="#a0a0a0" stroke-width="0.8"/>
<rect x="38.37" y="259.49" width="2.6" height="3.39" fill="#1e88ff"/>
<line x1="42.5" y1="257.57" x2="42.5" y2="269.7" stroke="#a0a0a0" stroke-width="0.8"/>
<rect x="41.5" y="258.39" width="2.0" height="6.48" fill="#1c1c1c" stroke="#a8a8a8" stroke-width="0.7"/>
<line x1="45.33" y1="259.03" x2="45.33" y2="274.09" stroke="#a0a0a0" stroke-width="0.8"/>
<rect x="44.03" y="259.03" width="2.6" height="9.65" fill="#1e88ff"/>
<line x1="48.16" y1="266.63" x2="48.16" y2="275.52" stroke="#a0a0a0" stroke-width="0.8"/>
<rect x="47.16" y="268.82" width="2.0" height="1.64" fill="#1c1c1c" stroke="#a8a8a8" stroke-width="0.7"/>
<line x1="51" y1="266.7" x2="51" y2="274.8" stroke="#a0a0a0" stroke-width="0.8"/>
<rect x="50" y="270.71" width="2.0" height="0.4" fill="#1c1c1c" stroke="#a8a8a8" stroke-width="0.7"/>
<line x1="53.83" y1="259.9" x2="53.83" y2="269.76" stroke="#a0a0a0" stroke-width="0.8"/>
<rect x="52.83" y="260.64" width="2.0" height="2.1" fill="#1c1c1c" stroke="#a8a8a8" stroke-width="0.7"/>
<line x1="56.66" y1="262.65" x2="56.66" y2="272.99" stroke="#a0a0a0" stroke-width="0.8"/>
<rect x="55.36" y="262.95" width="2.6" height="8.25" fill="#1e88ff"/>
<line x1="59.49" y1="259.05" x2="59.49" y2="267.53" stroke="#a0a0a0" stroke-width="0.8"/>
<rect x="58.49" y="260.63" width="2.0" height="5.7" fill="#1c1c1c" stroke="#a8a8a8" stroke-width="0.7"/>
<line x1="62.32" y1="251.33" x2="62.32" y2="261.53" stroke="#a0a0a0" stroke-width="0.8"/>
<rect x="61.32" y="252.57" width="2.0" height="7.33" fill="#1c1c1c" stroke="#a8a8a8" stroke-width="0.7"/>
<line x1="65.16" y1="251.68" x2="65.16" y2="257.64" stroke="#a0a0a0" stroke-width="0.8"/>
<rect x="64.16" y="254.93" width="2.0" height="0.4" fill="#1c1c1c" stroke="#a8a8a8" stroke-width="0.7"/>
<line x1="67.99" y1="246.34" x2="67.99" y2="255.61" stroke="#a0a0a0" stroke-width="0.8"/>
<rect x="66.99" y="248.04" width="2.0" height="7.27" fill="#1c1c1c" stroke="#a8a8a8" stroke-width="0.7"/>
<line x1="70.82" y1="236.63" x2="70.82" y2="244.83" stroke="#a0a0a0" stroke-width="0.8"/>
<rect x="69.82" y="239.21" width="2.0" height="5.32" fill="#1c1c1c" stroke="#a8a8a8" stroke-width="0.7"/>
<line x1="73.65" y1="236.84" x2="73.65" y2="249.82" stroke="#a0a0a0" stroke-width="0.8"/>
<rect x="72.35" y="237.55" width="2.6" height="10.14" fill="#1e88ff"/>
<line x1="76.48" y1="241.54" x2="76.48" y2="249.06" stroke="#a0a0a0" stroke-width="0.8"/>
<rect x="75.48" y="242.63" width="2.0" height="4.5" fill="#1c1c1c" stroke="#a8a8a8" stroke-width="0.7"/>
<line x1="79.32" y1="235.24" x2="79.32" y2="242.77" stroke="#a0a0a0" stroke-width="0.8"/>
<rect x="78.02" y="235.8" width="2.6" height="6.73" fill="#1e88ff"/>
<line x1="82.15" y1="236.48" x2="82.15" y2="241.62" stroke="#a0a0a0" stroke-width="0.8"/>
<rect x="81.15" y="238.26" width="2.0" height="0.43" fill="#1c1c1c" stroke="#a8a8a8" stroke-width="0.7"/>
<line x1="84.98" y1="237.52" x2="84.98" y2="245.82" stroke="#a0a0a0" stroke-width="0.8"/>
<rect x="83.68" y="239.31" width="2.6" height="1" fill="#1e88ff"/>
<line x1="87.81" y1="238.28" x2="87.81" y2="246.53" stroke="#a0a0a0" stroke-width="0.8"/>
<rect x="86.81" y="240.91" width="2.0" height="3.04" fill="#1c1c1c" stroke="#a8a8a8" stroke-width="0.7"/>
<line x1="90.64" y1="243.83" x2="90.64" y2="258.11" stroke="#a0a0a0" stroke-width="0.8"/>
<rect x="89.34" y="243.9" width="2.6" height="7.3" fill="#1e88ff"/>
<line x1="93.48" y1="247.19" x2="93.48" y2="253.67" stroke="#a0a0a0" stroke-width="0.8"/>
<rect x="92.18" y="247.19" width="2.6" height="1.56" fill="#1e88ff"/>
<line x1="96.31" y1="238.32" x2="96.31" y2="250.7" stroke="#a0a0a0" stroke-width="0.8"/>
<rect x="95.01" y="245.43" width="2.6" height="3.67" fill="#1e88ff"/>
<line x1="99.14" y1="242.24" x2="99.14" y2="246.15" stroke="#a0a0a0" stroke-width="0.8"/>
<rect x="97.84" y="244.02" width="2.6" height="2.05" fill="#1e88ff"/>
<line x1="101.97" y1="241.4" x2="101.97" y2="250.27" stroke="#a0a0a0" stroke-width="0.8"/>
<rect x="100.97" y="244.51" width="2.0" height="2.01" fill="#1c1c1c" stroke="#a8a8a8" stroke-width="0.7"/>
<line x1="104.8" y1="240.66" x2="104.8" y2="248.48" stroke="#a0a0a0" stroke-width="0.8"/>
<rect x="103.5" y="244.27" width="2.6" height="3.74" fill="#1e88ff"/>
<line x1="107.64" y1="255.56" x2="107.64" y2="269.84" stroke="#a0a0a0" stroke-width="0.8"/>
<rect x="106.34" y="255.56" width="2.6" height="13.77" fill="#1e88ff"/>
<line x1="110.47" y1="256.2" x2="110.47" y2="265.83" stroke="#a0a0a0" stroke-width="0.8"/>
<rect x="109.47" y="265.03" width="2.0" height="0.5" fill="#1c1c1c" stroke="#a8a8a8" stroke-width="0.7"/>
<line x1="113.3" y1="262.24" x2="113.3" y2="271.09" stroke="#a0a0a0" stroke-width="0.8"/>
<rect x="112" y="265.45" width="2.6" height="2.45" fill="#1e88ff"/>
<line x1="116.13" y1="253.96" x2="116.13" y2="266.05" stroke="#a0a0a0" stroke-width="0.8"/>
<rect x="115.13" y="254.4" width="2.0" height="11.29" fill="#1c1c1c" stroke="#a8a8a8" stroke-width="0.7"/>
<line x1="118.96" y1="223.88" x2="118.96" y2="237.92" stroke="#a0a0a0" stroke-width="0.8"/>
<rect x="117.96" y="225.58" width="2.0" height="12.04" fill="#1c1c1c" stroke="#a8a8a8" stroke-width="0.7"/>
<line x1="121.8" y1="214.48" x2="121.8" y2="221.7" stroke="#a0a0a0" stroke-width="0.8"/>
<rect x="120.8" y="216.9" width="2.0" height="4.5" fill="#1c1c1c" stroke="#a8a8a8" stroke-width="0.7"/>
<line x1="124.63" y1="208.85" x2="124.63" y2="215.88" stroke="#a0a0a0" stroke-width="0.8"/>
<rect x="123.63" y="212.48" width="2.0" height="3.1" fill="#1c1c1c" stroke="#a8a8a8" stroke-width="0.7"/>
<line x1="127.46" y1="207.89" x2="127.46" y2="213.92" stroke="#a0a0a0" stroke-width="0.8"/>
<rect x="126.16" y="209.55" width="2.6" height="1.48" fill="#1e88ff"/>
<line x1="130.29" y1="209.35" x2="130.29" y2="219.16" stroke="#a0a0a0" stroke-width="0.8"/>
<rect x="128.99" y="210.59" width="2.6" height="3.86" fill="#1e88ff"/>
<line x1="133.12" y1="209.69" x2="133.12" y2="218.02" stroke="#a0a0a0" stroke-width="0.8"/>
<rect x="131.82" y="214.11" width="2.6" height="1" fill="#1e88ff"/>
<line x1="135.96" y1="212.51" x2="135.96" y2="222.67" stroke="#a0a0a0" stroke-width="0.8"/>
<rect x="134.66" y="213.35" width="2.6" height="7.96" fill="#1e88ff"/>
<line x1="138.79" y1="227.99" x2="138.79" y2="240.26" stroke="#a0a0a0" stroke-width="0.8"/>
<rect x="137.49" y="228.48" width="2.6" height="8.31" fill="#1e88ff"/>
<line x1="141.62" y1="229.4" x2="141.62" y2="237.71" stroke="#a0a0a0" stroke-width="0.8"/>
<rect x="140.62" y="232.56" width="2.0" height="2.4" fill="#1c1c1c" stroke="#a8a8a8" stroke-width="0.7"/>
<line x1="144.45" y1="226.93" x2="144.45" y2="238.77" stroke="#a0a0a0" stroke-width="0.8"/>
<rect x="143.45" y="227.95" width="2.0" height="8.47" fill="#1c1c1c" stroke="#a8a8a8" stroke-width="0.7"/>
<line x1="147.28" y1="226.91" x2="147.28" y2="238.77" stroke="#a0a0a0" stroke-width="0.8"/>
<rect x="146.28" y="227.93" width="2.0" height="0.4" fill="#1c1c1c" stroke="#a8a8a8" stroke-width="0.7"/>
<line x1="150.12" y1="218.5" x2="150.12" y2="234.32" stroke="#a0a0a0" stroke-width="0.8"/>
<rect x="149.12" y="221.7" width="2.0" height="1.66" fill="#1c1c1c" stroke="#a8a8a8" stroke-width="0.7"/>
<line x1="152.95" y1="216.64" x2="152.95" y2="222.26" stroke="#a0a0a0" stroke-width="0.8"/>
<rect x="151.95" y="217.64" width="2.0" height="4.32" fill="#1c1c1c" stroke="#a8a8a8" stroke-width="0.7"/>
<line x1="155.78" y1="207.21" x2="155.78" y2="218.41" stroke="#a0a0a0" stroke-width="0.8"/>
<rect x="154.48" y="212.82" width="2.6" height="1" fill="#1e88ff"/>
<line x1="158.61" y1="206.29" x2="158.61" y2="212.82" stroke="#a0a0a0" stroke-width="0.8"/>
<rect x="157.61" y="207.34" width="2.0" height="3.66" fill="#1c1c1c" stroke="#a8a8a8" stroke-width="0.7"/>
<line x1="161.44" y1="207.33" x2="161.44" y2="214.28" stroke="#a0a0a0" stroke-width="0.8"/>
<rect x="160.14" y="208.52" width="2.6" height="3.03" fill="#1e88ff"/>
<line x1="164.28" y1="202.6" x2="164.28" y2="210.52" stroke="#a0a0a0" stroke-width="0.8"/>
<rect x="163.28" y="205.22" width="2.0" height="4.99" fill="#1c1c1c" stroke="#a8a8a8" stroke-width="0.7"/>
<line x1="167.11" y1="200.74" x2="167.11" y2="204.34" stroke="#a0a0a0" stroke-width="0.8"/>
<rect x="166.11" y="202.31" width="2.0" height="0.79" fill="#1c1c1c" stroke="#a8a8a8" stroke-width="0.7"/>
<line x1="169.94" y1="200.95" x2="169.94" y2="204.72" stroke="#a0a0a0" stroke-width="0.8"/>
<rect x="168.94" y="201.77" width="2.0" height="0.76" fill="#1c1c1c" stroke="#a8a8a8" stroke-width="0.7"/>
<line x1="172.77" y1="193.6" x2="172.77" y2="199.27" stroke="#a0a0a0" stroke-width="0.8"/>
<rect x="171.77" y="194.56" width="2.0" height="2.77" fill="#1c1c1c" stroke="#a8a8a8" stroke-width="0.7"/>
<line x1="175.6" y1="191.61" x2="175.6" y2="197.38" stroke="#a0a0a0" stroke-width="0.8"/>
<rect x="174.3" y="193.76" width="2.6" height="2.74" fill="#1e88ff"/>
<line x1="178.44" y1="191.61" x2="178.44" y2="195.54" stroke="#a0a0a0" stroke-width="0.8"/>
<rect x="177.44" y="193.82" width="2.0" height="1.15" fill="#1c1c1c" stroke="#a8a8a8" stroke-width="0.7"/>
<line x1="181.27" y1="193.86" x2="181.27" y2="201.72" stroke="#a0a0a0" stroke-width="0.8"/>
<rect x="179.97" y="194.95" width="2.6" height="5.94" fill="#1e88ff"/>
<line x1="184.1" y1="198.42" x2="184.1" y2="205.41" stroke="#a0a0a0" stroke-width="0.8"/>
<rect x="182.8" y="199.95" width="2.6" height="4.47" fill="#1e88ff"/>
<line x1="186.93" y1="193.06" x2="186.93" y2="199.45" stroke="#a0a0a0" stroke-width="0.8"/>
<rect x="185.93" y="195.01" width="2.0" height="4.14" fill="#1c1c1c" stroke="#a8a8a8" stroke-width="0.7"/>
<line x1="189.76" y1="195.6" x2="189.76" y2="201.2" stroke="#a0a0a0" stroke-width="0.8"/>
<rect x="188.46" y="196.66" width="2.6" height="4.54" fill="#1e88ff"/>
<line x1="192.6" y1="195.82" x2="192.6" y2="204.25" stroke="#a0a0a0" stroke-width="0.8"/>
<rect x="191.3" y="197.87" width="2.6" height="3.36" fill="#1e88ff"/>
<line x1="195.43" y1="194.52" x2="195.43" y2="199.65" stroke="#a0a0a0" stroke-width="0.8"/>
<rect x="194.43" y="197.01" width="2.0" height="1.43" fill="#1c1c1c" stroke="#a8a8a8" stroke-width="0.7"/>
<line x1="198.26" y1="199.94" x2="198.26" y2="204.37" stroke="#a0a0a0" stroke-width="0.8"/>
<rect x="196.96" y="200.95" width="2.6" height="1" fill="#1e88ff"/>
<line x1="201.09" y1="197.38" x2="201.09" y2="237.35" stroke="#a0a0a0" stroke-width="0.8"/>
<rect x="199.79" y="201.91" width="2.6" height="34.57" fill="#1e88ff"/>
<line x1="203.92" y1="224" x2="203.92" y2="237.68" stroke="#a0a0a0" stroke-width="0.8"/>
<rect x="202.62" y="228.5" width="2.6" height="8.99" fill="#1e88ff"/>
<line x1="206.76" y1="214.83" x2="206.76" y2="244.34" stroke="#a0a0a0" stroke-width="0.8"/>
<rect x="205.76" y="225.22" width="2.0" height="16.9" fill="#1c1c1c" stroke="#a8a8a8" stroke-width="0.7"/>
<line x1="209.59" y1="215.58" x2="209.59" y2="230.49" stroke="#a0a0a0" stroke-width="0.8"/>
<rect x="208.59" y="216.71" width="2.0" height="6.06" fill="#1c1c1c" stroke="#a8a8a8" stroke-width="0.7"/>
<line x1="212.42" y1="203.4" x2="212.42" y2="214.96" stroke="#a0a0a0" stroke-width="0.8"/>
<rect x="211.42" y="203.71" width="2.0" height="10.32" fill="#1c1c1c" stroke="#a8a8a8" stroke-width="0.7"/>
<line x1="215.25" y1="201.5" x2="215.25" y2="209.85" stroke="#a0a0a0" stroke-width="0.8"/>
<rect x="214.25" y="204.19" width="2.0" height="1.89" fill="#1c1c1c" stroke="#a8a8a8" stroke-width="0.7"/>
<line x1="218.08" y1="210.08" x2="218.08" y2="224.51" stroke="#a0a0a0" stroke-width="0.8"/>
<rect x="216.78" y="210.08" width="2.6" height="6.96" fill="#1e88ff"/>
<line x1="220.92" y1="222.96" x2="220.92" y2="237.08" stroke="#a0a0a0" stroke-width="0.8"/>
<rect x="219.62" y="226.93" width="2.6" height="2.7" fill="#1e88ff"/>
<line x1="223.75" y1="225.14" x2="223.75" y2="237.13" stroke="#a0a0a0" stroke-width="0.8"/>
<rect x="222.45" y="227.11" width="2.6" height="7.51" fill="#1e88ff"/>
<line x1="226.58" y1="224.09" x2="226.58" y2="244.88" stroke="#a0a0a0" stroke-width="0.8"/>
<rect x="225.28" y="230.36" width="2.6" height="6.84" fill="#1e88ff"/>
<line x1="229.41" y1="221.28" x2="229.41" y2="233.23" stroke="#a0a0a0" stroke-width="0.8"/>
<rect x="228.41" y="222.93" width="2.0" height="9.53" fill="#1c1c1c" stroke="#a8a8a8" stroke-width="0.7"/>
<line x1="232.24" y1="207.16" x2="232.24" y2="219.18" stroke="#a0a0a0" stroke-width="0.8"/>
<rect x="230.94" y="214.69" width="2.6" height="1.46" fill="#1e88ff"/>
<line x1="235.08" y1="211.17" x2="235.08" y2="232.84" stroke="#a0a0a0" stroke-width="0.8"/>
<rect x="233.78" y="212.63" width="2.6" height="16.59" fill="#1e88ff"/>
<line x1="237.91" y1="225.51" x2="237.91" y2="235.97" stroke="#a0a0a0" stroke-width="0.8"/>
<rect x="236.91" y="227.7" width="2.0" height="0.9" fill="#1c1c1c" stroke="#a8a8a8" stroke-width="0.7"/>
<line x1="240.74" y1="232.91" x2="240.74" y2="248.86" stroke="#a0a0a0" stroke-width="0.8"/>
<rect x="239.44" y="232.91" width="2.6" height="12.46" fill="#1e88ff"/>
<line x1="243.57" y1="243.02" x2="243.57" y2="256.01" stroke="#a0a0a0" stroke-width="0.8"/>
<rect x="242.57" y="243.86" width="2.0" height="10.02" fill="#1c1c1c" stroke="#a8a8a8" stroke-width="0.7"/>
<line x1="246.4" y1="236.53" x2="246.4" y2="249.68" stroke="#a0a0a0" stroke-width="0.8"/>
<rect x="245.1" y="239.05" width="2.6" height="3.2" fill="#1e88ff"/>
<line x1="249.24" y1="219.06" x2="249.24" y2="229.97" stroke="#a0a0a0" stroke-width="0.8"/>
<rect x="248.24" y="221.47" width="2.0" height="8.21" fill="#1c1c1c" stroke="#a8a8a8" stroke-width="0.7"/>
<line x1="252.07" y1="218.26" x2="252.07" y2="225.02" stroke="#a0a0a0" stroke-width="0.8"/>
<rect x="250.77" y="220.07" width="2.6" height="3.58" fill="#1e88ff"/>
<line x1="254.9" y1="208.35" x2="254.9" y2="217.27" stroke="#a0a0a0" stroke-width="0.8"/>
<rect x="253.9" y="212.26" width="2.0" height="4.71" fill="#1c1c1c" stroke="#a8a8a8" stroke-width="0.7"/>
<line x1="257.73" y1="201.15" x2="257.73" y2="209.94" stroke="#a0a0a0" stroke-width="0.8"/>
<rect x="256.73" y="201.9" width="2.0" height="6.32" fill="#1c1c1c" stroke="#a8a8a8" stroke-width="0.7"/>
<line x1="260.56" y1="191.44" x2="260.56" y2="196.3" stroke="#a0a0a0" stroke-width="0.8"/>
<rect x="259.56" y="194.59" width="2.0" height="0.4" fill="#1c1c1c" stroke="#a8a8a8" stroke-width="0.7"/>
<line x1="263.4" y1="187.91" x2="263.4" y2="196.59" stroke="#a0a0a0" stroke-width="0.8"/>
<rect x="262.4" y="188.21" width="2.0" height="7.75" fill="#1c1c1c" stroke="#a8a8a8" stroke-width="0.7"/>
<line x1="266.23" y1="186.05" x2="266.23" y2="193.82" stroke="#a0a0a0" stroke-width="0.8"/>
<rect x="264.93" y="187.38" width="2.6" height="3.98" fill="#1e88ff"/>
<line x1="269.06" y1="207.92" x2="269.06" y2="218.6" stroke="#a0a0a0" stroke-width="0.8"/>
<rect x="268.06" y="209.18" width="2.0" height="7.92" fill="#1c1c1c" stroke="#a8a8a8" stroke-width="0.7"/>
<line x1="271.89" y1="197.58" x2="271.89" y2="210.64" stroke="#a0a0a0" stroke-width="0.8"/>
<rect x="270.89" y="198.26" width="2.0" height="7.42" fill="#1c1c1c" stroke="#a8a8a8" stroke-width="0.7"/>
<line x1="274.72" y1="198.92" x2="274.72" y2="208.75" stroke="#a0a0a0" stroke-width="0.8"/>
<rect x="273.42" y="199.93" width="2.6" height="3.62" fill="#1e88ff"/>
<line x1="277.56" y1="194.23" x2="277.56" y2="205.89" stroke="#a0a0a0" stroke-width="0.8"/>
<rect x="276.56" y="197.58" width="2.0" height="3.42" fill="#1c1c1c" stroke="#a8a8a8" stroke-width="0.7"/>
<line x1="280.39" y1="187.48" x2="280.39" y2="205.21" stroke="#a0a0a0" stroke-width="0.8"/>
<rect x="279.09" y="192.23" width="2.6" height="11.08" fill="#1e88ff"/>
<line x1="283.22" y1="206.94" x2="283.22" y2="226.29" stroke="#a0a0a0" stroke-width="0.8"/>
<rect x="282.22" y="212.67" width="2.0" height="4.31" fill="#1c1c1c" stroke="#a8a8a8" stroke-width="0.7"/>
<line x1="286.05" y1="202.93" x2="286.05" y2="213.1" stroke="#a0a0a0" stroke-width="0.8"/>
<rect x="285.05" y="204.14" width="2.0" height="7.23" fill="#1c1c1c" stroke="#a8a8a8" stroke-width="0.7"/>
<line x1="288.88" y1="198.92" x2="288.88" y2="209.91" stroke="#a0a0a0" stroke-width="0.8"/>
<rect x="287.88" y="199.49" width="2.0" height="7.48" fill="#1c1c1c" stroke="#a8a8a8" stroke-width="0.7"/>
<line x1="291.72" y1="194.75" x2="291.72" y2="202.07" stroke="#a0a0a0" stroke-width="0.8"/>
<rect x="290.72" y="195.14" width="2.0" height="1.64" fill="#1c1c1c" stroke="#a8a8a8" stroke-width="0.7"/>
<line x1="294.55" y1="191.35" x2="294.55" y2="207.37" stroke="#a0a0a0" stroke-width="0.8"/>
<rect x="293.25" y="194.92" width="2.6" height="11.26" fill="#1e88ff"/>
<line x1="297.38" y1="196.84" x2="297.38" y2="202.47" stroke="#a0a0a0" stroke-width="0.8"/>
<rect x="296.38" y="198.51" width="2.0" height="3.35" fill="#1c1c1c" stroke="#a8a8a8" stroke-width="0.7"/>
<line x1="300.21" y1="196.27" x2="300.21" y2="202.96" stroke="#a0a0a0" stroke-width="0.8"/>
<rect x="299.21" y="198.11" width="2.0" height="3.18" fill="#1c1c1c" stroke="#a8a8a8" stroke-width="0.7"/>
<line x1="303.04" y1="198.87" x2="303.04" y2="210.71" stroke="#a0a0a0" stroke-width="0.8"/>
<rect x="302.04" y="201.36" width="2.0" height="4.7" fill="#1c1c1c" stroke="#a8a8a8" stroke-width="0.7"/>
<line x1="305.88" y1="188.27" x2="305.88" y2="201.26" stroke="#a0a0a0" stroke-width="0.8"/>
<rect x="304.88" y="188.93" width="2.0" height="10.13" fill="#1c1c1c" stroke="#a8a8a8" stroke-width="0.7"/>
<line x1="308.71" y1="186.19" x2="308.71" y2="190.1" stroke="#a0a0a0" stroke-width="0.8"/>
<rect x="307.41" y="188.54" width="2.6" height="1" fill="#1e88ff"/>
<line x1="311.54" y1="185.76" x2="311.54" y2="191.7" stroke="#a0a0a0" stroke-width="0.8"/>
<rect x="310.54" y="186.07" width="2.0" height="0.97" fill="#1c1c1c" stroke="#a8a8a8" stroke-width="0.7"/>
<line x1="314.37" y1="182.26" x2="314.37" y2="189.4" stroke="#a0a0a0" stroke-width="0.8"/>
<rect x="313.37" y="183.2" width="2.0" height="4.6" fill="#1c1c1c" stroke="#a8a8a8" stroke-width="0.7"/>
<line x1="317.2" y1="184.8" x2="317.2" y2="194.64" stroke="#a0a0a0" stroke-width="0.8"/>
<rect x="315.9" y="184.8" width="2.6" height="3.35" fill="#1e88ff"/>
<line x1="320.04" y1="188.68" x2="320.04" y2="209.61" stroke="#a0a0a0" stroke-width="0.8"/>
<rect x="318.74" y="188.82" width="2.6" height="19.89" fill="#1e88ff"/>
<line x1="322.87" y1="202.7" x2="322.87" y2="215.67" stroke="#a0a0a0" stroke-width="0.8"/>
<rect x="321.57" y="206.04" width="2.6" height="8.56" fill="#1e88ff"/>
<line x1="325.7" y1="212.75" x2="325.7" y2="229.33" stroke="#a0a0a0" stroke-width="0.8"/>
<rect x="324.4" y="214.7" width="2.6" height="5.41" fill="#1e88ff"/>
<line x1="328.53" y1="209.37" x2="328.53" y2="224.56" stroke="#a0a0a0" stroke-width="0.8"/>
<rect x="327.23" y="217.04" width="2.6" height="2.92" fill="#1e88ff"/>
<line x1="331.36" y1="212.54" x2="331.36" y2="239.12" stroke="#a0a0a0" stroke-width="0.8"/>
<rect x="330.06" y="214.87" width="2.6" height="23.7" fill="#1e88ff"/>
<line x1="334.2" y1="219.3" x2="334.2" y2="243.28" stroke="#a0a0a0" stroke-width="0.8"/>
<rect x="333.2" y="220.56" width="2.0" height="18.66" fill="#1c1c1c" stroke="#a8a8a8" stroke-width="0.7"/>
<line x1="337.03" y1="214.04" x2="337.03" y2="248.55" stroke="#a0a0a0" stroke-width="0.8"/>
<rect x="335.73" y="217.54" width="2.6" height="23.37" fill="#1e88ff"/>
<line x1="339.86" y1="237.88" x2="339.86" y2="263.98" stroke="#a0a0a0" stroke-width="0.8"/>
<rect x="338.56" y="248.34" width="2.6" height="6.66" fill="#1e88ff"/>
<line x1="342.69" y1="238.76" x2="342.69" y2="262.06" stroke="#a0a0a0" stroke-width="0.8"/>
<rect x="341.69" y="242.6" width="2.0" height="11.47" fill="#1c1c1c" stroke="#a8a8a8" stroke-width="0.7"/>
<line x1="345.52" y1="248.32" x2="345.52" y2="268.11" stroke="#a0a0a0" stroke-width="0.8"/>
<rect x="344.22" y="253.48" width="2.6" height="9.33" fill="#1e88ff"/>
<line x1="348.36" y1="254.05" x2="348.36" y2="277.04" stroke="#a0a0a0" stroke-width="0.8"/>
<rect x="347.36" y="256.87" width="2.0" height="8.11" fill="#1c1c1c" stroke="#a8a8a8" stroke-width="0.7"/>
<line x1="351.19" y1="269.34" x2="351.19" y2="297.19" stroke="#a0a0a0" stroke-width="0.8"/>
<rect x="349.89" y="269.34" width="2.6" height="17.89" fill="#1e88ff"/>
<line x1="354.02" y1="282.95" x2="354.02" y2="304.2" stroke="#a0a0a0" stroke-width="0.8"/>
<rect x="352.72" y="289.38" width="2.6" height="6.22" fill="#1e88ff"/>
<line x1="356.85" y1="281.79" x2="356.85" y2="300.72" stroke="#a0a0a0" stroke-width="0.8"/>
<rect x="355.55" y="285.21" width="2.6" height="5.03" fill="#1e88ff"/>
<line x1="359.68" y1="290.54" x2="359.68" y2="308.88" stroke="#a0a0a0" stroke-width="0.8"/>
<rect x="358.38" y="291.19" width="2.6" height="14.37" fill="#1e88ff"/>
<line x1="362.52" y1="281.18" x2="362.52" y2="297.22" stroke="#a0a0a0" stroke-width="0.8"/>
<rect x="361.52" y="282.73" width="2.0" height="14.19" fill="#1c1c1c" stroke="#a8a8a8" stroke-width="0.7"/>
<line x1="365.35" y1="269.71" x2="365.35" y2="283.97" stroke="#a0a0a0" stroke-width="0.8"/>
<rect x="364.35" y="275.6" width="2.0" height="7.19" fill="#1c1c1c" stroke="#a8a8a8" stroke-width="0.7"/>
<line x1="368.18" y1="279.36" x2="368.18" y2="290.54" stroke="#a0a0a0" stroke-width="0.8"/>
<rect x="366.88" y="279.36" width="2.6" height="7.85" fill="#1e88ff"/>
<line x1="371.01" y1="267.38" x2="371.01" y2="285.73" stroke="#a0a0a0" stroke-width="0.8"/>
<rect x="370.01" y="275.57" width="2.0" height="7.86" fill="#1c1c1c" stroke="#a8a8a8" stroke-width="0.7"/>
<line x1="373.84" y1="268.2" x2="373.84" y2="283.65" stroke="#a0a0a0" stroke-width="0.8"/>
<rect x="372.84" y="278.01" width="2.0" height="2.55" fill="#1c1c1c" stroke="#a8a8a8" stroke-width="0.7"/>
<line x1="376.68" y1="276.14" x2="376.68" y2="289.49" stroke="#a0a0a0" stroke-width="0.8"/>
<rect x="375.68" y="277.09" width="2.0" height="6.66" fill="#1c1c1c" stroke="#a8a8a8" stroke-width="0.7"/>
<line x1="379.51" y1="255.6" x2="379.51" y2="266.84" stroke="#a0a0a0" stroke-width="0.8"/>
<rect x="378.51" y="257.39" width="2.0" height="9.15" fill="#1c1c1c" stroke="#a8a8a8" stroke-width="0.7"/>
<line x1="382.34" y1="253.27" x2="382.34" y2="257.79" stroke="#a0a0a0" stroke-width="0.8"/>
<rect x="381.34" y="255.6" width="2.0" height="0.4" fill="#1c1c1c" stroke="#a8a8a8" stroke-width="0.7"/>
<line x1="385.17" y1="253.93" x2="385.17" y2="271.5" stroke="#a0a0a0" stroke-width="0.8"/>
<rect x="383.87" y="256.28" width="2.6" height="11.71" fill="#1e88ff"/>
<line x1="388" y1="264.04" x2="388" y2="276.12" stroke="#a0a0a0" stroke-width="0.8"/>
<rect x="386.7" y="271.26" width="2.6" height="1" fill="#1e88ff"/>
<line x1="390.84" y1="273.18" x2="390.84" y2="295.53" stroke="#a0a0a0" stroke-width="0.8"/>
<rect x="389.54" y="274.41" width="2.6" height="19.45" fill="#1e88ff"/>
<line x1="393.67" y1="284.67" x2="393.67" y2="312.02" stroke="#a0a0a0" stroke-width="0.8"/>
<rect x="392.67" y="288.07" width="2.0" height="15.94" fill="#1c1c1c" stroke="#a8a8a8" stroke-width="0.7"/>
<line x1="396.5" y1="280.14" x2="396.5" y2="298.27" stroke="#a0a0a0" stroke-width="0.8"/>
<rect x="395.5" y="283.89" width="2.0" height="6.4" fill="#1c1c1c" stroke="#a8a8a8" stroke-width="0.7"/>
<line x1="399.33" y1="271.32" x2="399.33" y2="295.72" stroke="#a0a0a0" stroke-width="0.8"/>
<rect x="398.33" y="276.42" width="2.0" height="17.17" fill="#1c1c1c" stroke="#a8a8a8" stroke-width="0.7"/>
<line x1="402.16" y1="309.89" x2="402.16" y2="331.31" stroke="#a0a0a0" stroke-width="0.8"/>
<rect x="400.86" y="311.23" width="2.6" height="18.96" fill="#1e88ff"/>
<line x1="405" y1="350.75" x2="405" y2="394.53" stroke="#a0a0a0" stroke-width="0.8"/>
<rect x="403.7" y="350.75" width="2.6" height="42.96" fill="#1e88ff"/>
<line x1="407.83" y1="359.73" x2="407.83" y2="440.8" stroke="#a0a0a0" stroke-width="0.8"/>
<rect x="406.83" y="396.34" width="2.0" height="20.77" fill="#1c1c1c" stroke="#a8a8a8" stroke-width="0.7"/>
<line x1="410.66" y1="355.61" x2="410.66" y2="425.95" stroke="#a0a0a0" stroke-width="0.8"/>
<rect x="409.36" y="370.17" width="2.6" height="41.53" fill="#1e88ff"/>
<line x1="413.49" y1="313.48" x2="413.49" y2="418.46" stroke="#a0a0a0" stroke-width="0.8"/>
<rect x="412.49" y="318.59" width="2.0" height="96.25" fill="#1c1c1c" stroke="#a8a8a8" stroke-width="0.7"/>
<line x1="416.32" y1="338.73" x2="416.32" y2="385.59" stroke="#a0a0a0" stroke-width="0.8"/>
<rect x="415.02" y="338.73" width="2.6" height="16.76" fill="#1e88ff"/>
<line x1="419.16" y1="333.15" x2="419.16" y2="364.81" stroke="#a0a0a0" stroke-width="0.8"/>
<rect x="418.16" y="337.02" width="2.0" height="20.64" fill="#1c1c1c" stroke="#a8a8a8" stroke-width="0.7"/>
<line x1="421.99" y1="317.79" x2="421.99" y2="337.77" stroke="#a0a0a0" stroke-width="0.8"/>
<rect x="420.69" y="321.23" width="2.6" height="7.09" fill="#1e88ff"/>
<line x1="424.82" y1="319.57" x2="424.82" y2="332.17" stroke="#a0a0a0" stroke-width="0.8"/>
<rect x="423.52" y="327.14" width="2.6" height="3.03" fill="#1e88ff"/>
<line x1="427.65" y1="335.95" x2="427.65" y2="364.8" stroke="#a0a0a0" stroke-width="0.8"/>
<rect x="426.35" y="342.16" width="2.6" height="11.83" fill="#1e88ff"/>
<line x1="430.48" y1="343.62" x2="430.48" y2="357.95" stroke="#a0a0a0" stroke-width="0.8"/>
<rect x="429.18" y="348.13" width="2.6" height="4.48" fill="#1e88ff"/>
<line x1="433.32" y1="362.41" x2="433.32" y2="388.28" stroke="#a0a0a0" stroke-width="0.8"/>
<rect x="432.02" y="362.41" width="2.6" height="14.72" fill="#1e88ff"/>
<line x1="436.15" y1="347.31" x2="436.15" y2="367.39" stroke="#a0a0a0" stroke-width="0.8"/>
<rect x="435.15" y="351.91" width="2.0" height="15.18" fill="#1c1c1c" stroke="#a8a8a8" stroke-width="0.7"/>
<line x1="438.98" y1="315.77" x2="438.98" y2="338.13" stroke="#a0a0a0" stroke-width="0.8"/>
<rect x="437.68" y="330.3" width="2.6" height="3.95" fill="#1e88ff"/>
<line x1="441.81" y1="311.89" x2="441.81" y2="335.02" stroke="#a0a0a0" stroke-width="0.8"/>
<rect x="440.81" y="313.1" width="2.0" height="19.77" fill="#1c1c1c" stroke="#a8a8a8" stroke-width="0.7"/>
<line x1="444.64" y1="304.26" x2="444.64" y2="318.5" stroke="#a0a0a0" stroke-width="0.8"/>
<rect x="443.64" y="305.13" width="2.0" height="6.39" fill="#1c1c1c" stroke="#a8a8a8" stroke-width="0.7"/>
<line x1="447.48" y1="299.23" x2="447.48" y2="315.98" stroke="#a0a0a0" stroke-width="0.8"/>
<rect x="446.18" y="304.04" width="2.6" height="1" fill="#1e88ff"/>
<line x1="450.31" y1="295.63" x2="450.31" y2="308.68" stroke="#a0a0a0" stroke-width="0.8"/>
<rect x="449.31" y="298.12" width="2.0" height="9.64" fill="#1c1c1c" stroke="#a8a8a8" stroke-width="0.7"/>
<line x1="453.14" y1="293.68" x2="453.14" y2="322.95" stroke="#a0a0a0" stroke-width="0.8"/>
<rect x="452.14" y="296.5" width="2.0" height="13.12" fill="#1c1c1c" stroke="#a8a8a8" stroke-width="0.7"/>
<line x1="455.97" y1="278.49" x2="455.97" y2="290.62" stroke="#a0a0a0" stroke-width="0.8"/>
<rect x="454.67" y="285.15" width="2.6" height="4.14" fill="#1e88ff"/>
<line x1="458.8" y1="270.26" x2="458.8" y2="281.26" stroke="#a0a0a0" stroke-width="0.8"/>
<rect x="457.8" y="273.33" width="2.0" height="7.42" fill="#1c1c1c" stroke="#a8a8a8" stroke-width="0.7"/>
<line x1="461.64" y1="273.74" x2="461.64" y2="282.21" stroke="#a0a0a0" stroke-width="0.8"/>
<rect x="460.34" y="279.2" width="2.6" height="1" fill="#1e88ff"/>
<line x1="464.47" y1="280.27" x2="464.47" y2="291.96" stroke="#a0a0a0" stroke-width="0.8"/>
<rect x="463.47" y="289.04" width="2.0" height="0.4" fill="#1c1c1c" stroke="#a8a8a8" stroke-width="0.7"/>
<line x1="467.3" y1="279.44" x2="467.3" y2="294.17" stroke="#a0a0a0" stroke-width="0.8"/>
<rect x="466.3" y="284.24" width="2.0" height="2.67" fill="#1c1c1c" stroke="#a8a8a8" stroke-width="0.7"/>
<line x1="470.13" y1="266.44" x2="470.13" y2="283.1" stroke="#a0a0a0" stroke-width="0.8"/>
<rect x="469.13" y="277.8" width="2.0" height="1.05" fill="#1c1c1c" stroke="#a8a8a8" stroke-width="0.7"/>
<line x1="472.96" y1="272.05" x2="472.96" y2="281.1" stroke="#a0a0a0" stroke-width="0.8"/>
<rect x="471.66" y="274.45" width="2.6" height="3.85" fill="#1e88ff"/>
<line x1="475.8" y1="241.99" x2="475.8" y2="255.18" stroke="#a0a0a0" stroke-width="0.8"/>
<rect x="474.8" y="242.29" width="2.0" height="6.64" fill="#1c1c1c" stroke="#a8a8a8" stroke-width="0.7"/>
<line x1="478.63" y1="229.69" x2="478.63" y2="240.13" stroke="#a0a0a0" stroke-width="0.8"/>
<rect x="477.63" y="233.95" width="2.0" height="5.79" fill="#1c1c1c" stroke="#a8a8a8" stroke-width="0.7"/>
<line x1="481.46" y1="229.65" x2="481.46" y2="236.55" stroke="#a0a0a0" stroke-width="0.8"/>
<rect x="480.46" y="232.76" width="2.0" height="0.42" fill="#1c1c1c" stroke="#a8a8a8" stroke-width="0.7"/>
<line x1="484.29" y1="226.23" x2="484.29" y2="237.41" stroke="#a0a0a0" stroke-width="0.8"/>
<rect x="483.29" y="227.96" width="2.0" height="8.73" fill="#1c1c1c" stroke="#a8a8a8" stroke-width="0.7"/>
<line x1="487.12" y1="219.45" x2="487.12" y2="229.52" stroke="#a0a0a0" stroke-width="0.8"/>
<rect x="486.12" y="219.8" width="2.0" height="5.15" fill="#1c1c1c" stroke="#a8a8a8" stroke-width="0.7"/>
<line x1="489.96" y1="217.48" x2="489.96" y2="231.85" stroke="#a0a0a0" stroke-width="0.8"/>
<rect x="488.96" y="218.77" width="2.0" height="11.36" fill="#1c1c1c" stroke="#a8a8a8" stroke-width="0.7"/>
<line x1="492.79" y1="220.55" x2="492.79" y2="229.18" stroke="#a0a0a0" stroke-width="0.8"/>
<rect x="491.49" y="222.2" width="2.6" height="1" fill="#1e88ff"/>
<line x1="495.62" y1="223.44" x2="495.62" y2="244.61" stroke="#a0a0a0" stroke-width="0.8"/>
<rect x="494.32" y="228.89" width="2.6" height="13.02" fill="#1e88ff"/>
<line x1="498.45" y1="235.32" x2="498.45" y2="245.61" stroke="#a0a0a0" stroke-width="0.8"/>
<rect x="497.45" y="242.72" width="2.0" height="0.4" fill="#1c1c1c" stroke="#a8a8a8" stroke-width="0.7"/>
<line x1="501.28" y1="244.89" x2="501.28" y2="257.12" stroke="#a0a0a0" stroke-width="0.8"/>
<rect x="500.28" y="250.44" width="2.0" height="3.52" fill="#1c1c1c" stroke="#a8a8a8" stroke-width="0.7"/>
<line x1="504.12" y1="226.21" x2="504.12" y2="240.05" stroke="#a0a0a0" stroke-width="0.8"/>
<rect x="503.12" y="227.06" width="2.0" height="12.69" fill="#1c1c1c" stroke="#a8a8a8" stroke-width="0.7"/>
<line x1="506.95" y1="225.29" x2="506.95" y2="233.6" stroke="#a0a0a0" stroke-width="0.8"/>
<rect x="505.65" y="225.96" width="2.6" height="7.29" fill="#1e88ff"/>
<line x1="509.78" y1="222.5" x2="509.78" y2="236.16" stroke="#a0a0a0" stroke-width="0.8"/>
<rect x="508.48" y="223.14" width="2.6" height="5.47" fill="#1e88ff"/>
<line x1="512.61" y1="226.64" x2="512.61" y2="242.1" stroke="#a0a0a0" stroke-width="0.8"/>
<rect x="511.61" y="229" width="2.0" height="0.98" fill="#1c1c1c" stroke="#a8a8a8" stroke-width="0.7"/>
<line x1="515.44" y1="223.63" x2="515.44" y2="238.6" stroke="#a0a0a0" stroke-width="0.8"/>
<rect x="514.44" y="224.22" width="2.0" height="7.13" fill="#1c1c1c" stroke="#a8a8a8" stroke-width="0.7"/>
<line x1="518.28" y1="214.97" x2="518.28" y2="225.29" stroke="#a0a0a0" stroke-width="0.8"/>
<rect x="517.28" y="217.44" width="2.0" height="5.67" fill="#1c1c1c" stroke="#a8a8a8" stroke-width="0.7"/>
<line x1="521.11" y1="213.18" x2="521.11" y2="217.98" stroke="#a0a0a0" stroke-width="0.8"/>
<rect x="519.81" y="215.45" width="2.6" height="1.6" fill="#1e88ff"/>
<line x1="523.94" y1="211.36" x2="523.94" y2="226.82" stroke="#a0a0a0" stroke-width="0.8"/>
<rect x="522.64" y="214.12" width="2.6" height="9.13" fill="#1e88ff"/>
<line x1="526.77" y1="207.98" x2="526.77" y2="215.51" stroke="#a0a0a0" stroke-width="0.8"/>
<rect x="525.77" y="211.53" width="2.0" height="2.02" fill="#1c1c1c" stroke="#a8a8a8" stroke-width="0.7"/>
<line x1="529.6" y1="207.1" x2="529.6" y2="212.45" stroke="#a0a0a0" stroke-width="0.8"/>
<rect x="528.6" y="210.44" width="2.0" height="0.4" fill="#1c1c1c" stroke="#a8a8a8" stroke-width="0.7"/>
<line x1="532.44" y1="202.83" x2="532.44" y2="211.25" stroke="#a0a0a0" stroke-width="0.8"/>
<rect x="531.44" y="203.95" width="2.0" height="5.09" fill="#1c1c1c" stroke="#a8a8a8" stroke-width="0.7"/>
<line x1="535.27" y1="199.6" x2="535.27" y2="210.84" stroke="#a0a0a0" stroke-width="0.8"/>
<rect x="533.97" y="201.57" width="2.6" height="5.35" fill="#1e88ff"/>
<line x1="538.1" y1="202.35" x2="538.1" y2="210.54" stroke="#a0a0a0" stroke-width="0.8"/>
<rect x="537.1" y="202.68" width="2.0" height="6.37" fill="#1c1c1c" stroke="#a8a8a8" stroke-width="0.7"/>
<line x1="540.93" y1="206.15" x2="540.93" y2="218.55" stroke="#a0a0a0" stroke-width="0.8"/>
<rect x="539.63" y="211.19" width="2.6" height="4.65" fill="#1e88ff"/>
<line x1="543.76" y1="201.29" x2="543.76" y2="210.51" stroke="#a0a0a0" stroke-width="0.8"/>
<rect x="542.76" y="205.08" width="2.0" height="5.13" fill="#1c1c1c" stroke="#a8a8a8" stroke-width="0.7"/>
<line x1="546.6" y1="206.72" x2="546.6" y2="216.26" stroke="#a0a0a0" stroke-width="0.8"/>
<rect x="545.3" y="208.91" width="2.6" height="5.8" fill="#1e88ff"/>
<line x1="549.43" y1="207.71" x2="549.43" y2="216.84" stroke="#a0a0a0" stroke-width="0.8"/>
<rect x="548.13" y="214.21" width="2.6" height="1" fill="#1e88ff"/>
<line x1="552.26" y1="207.7" x2="552.26" y2="220.65" stroke="#a0a0a0" stroke-width="0.8"/>
<rect x="550.96" y="210.34" width="2.6" height="7.3" fill="#1e88ff"/>
<line x1="555.09" y1="205.62" x2="555.09" y2="222.48" stroke="#a0a0a0" stroke-width="0.8"/>
<rect x="554.09" y="206.64" width="2.0" height="10.33" fill="#1c1c1c" stroke="#a8a8a8" stroke-width="0.7"/>
<line x1="557.92" y1="191.25" x2="557.92" y2="201.25" stroke="#a0a0a0" stroke-width="0.8"/>
<rect x="556.92" y="193.44" width="2.0" height="5.5" fill="#1c1c1c" stroke="#a8a8a8" stroke-width="0.7"/>
<line x1="560.76" y1="189.92" x2="560.76" y2="195.52" stroke="#a0a0a0" stroke-width="0.8"/>
<rect x="559.46" y="190.77" width="2.6" height="2.37" fill="#1e88ff"/>
<line x1="563.59" y1="182.44" x2="563.59" y2="190.17" stroke="#a0a0a0" stroke-width="0.8"/>
<rect x="562.59" y="183.82" width="2.0" height="5.1" fill="#1c1c1c" stroke="#a8a8a8" stroke-width="0.7"/>
<line x1="566.42" y1="174.33" x2="566.42" y2="185.23" stroke="#a0a0a0" stroke-width="0.8"/>
<rect x="565.42" y="177.51" width="2.0" height="3.81" fill="#1c1c1c" stroke="#a8a8a8" stroke-width="0.7"/>
<line x1="569.25" y1="168.93" x2="569.25" y2="174.57" stroke="#a0a0a0" stroke-width="0.8"/>
<rect x="568.25" y="171.22" width="2.0" height="1.68" fill="#1c1c1c" stroke="#a8a8a8" stroke-width="0.7"/>
<line x1="572.08" y1="169.78" x2="572.08" y2="176.24" stroke="#a0a0a0" stroke-width="0.8"/>
<rect x="571.08" y="172.59" width="2.0" height="1.52" fill="#1c1c1c" stroke="#a8a8a8" stroke-width="0.7"/>
<line x1="574.92" y1="166.46" x2="574.92" y2="174.21" stroke="#a0a0a0" stroke-width="0.8"/>
<rect x="573.92" y="166.8" width="2.0" height="6.47" fill="#1c1c1c" stroke="#a8a8a8" stroke-width="0.7"/>
<line x1="577.75" y1="155.22" x2="577.75" y2="162.74" stroke="#a0a0a0" stroke-width="0.8"/>
<rect x="576.75" y="156.57" width="2.0" height="5.87" fill="#1c1c1c" stroke="#a8a8a8" stroke-width="0.7"/>
<line x1="580.58" y1="159.6" x2="580.58" y2="171.56" stroke="#a0a0a0" stroke-width="0.8"/>
<rect x="579.28" y="160.13" width="2.6" height="5.86" fill="#1e88ff"/>
<line x1="583.41" y1="163.44" x2="583.41" y2="168.45" stroke="#a0a0a0" stroke-width="0.8"/>
<rect x="582.11" y="165.37" width="2.6" height="1.51" fill="#1e88ff"/>
<line x1="586.24" y1="158.28" x2="586.24" y2="164.47" stroke="#a0a0a0" stroke-width="0.8"/>
<rect x="585.24" y="159.74" width="2.0" height="3.87" fill="#1c1c1c" stroke="#a8a8a8" stroke-width="0.7"/>
<line x1="589.08" y1="154.13" x2="589.08" y2="161.78" stroke="#a0a0a0" stroke-width="0.8"/>
<rect x="588.08" y="156.35" width="2.0" height="2.17" fill="#1c1c1c" stroke="#a8a8a8" stroke-width="0.7"/>
<line x1="591.91" y1="158.22" x2="591.91" y2="163.03" stroke="#a0a0a0" stroke-width="0.8"/>
<rect x="590.91" y="160.43" width="2.0" height="0.4" fill="#1c1c1c" stroke="#a8a8a8" stroke-width="0.7"/>
<line x1="594.74" y1="157.46" x2="594.74" y2="163.63" stroke="#a0a0a0" stroke-width="0.8"/>
<rect x="593.74" y="158.69" width="2.0" height="2.04" fill="#1c1c1c" stroke="#a8a8a8" stroke-width="0.7"/>
<line x1="597.57" y1="151.8" x2="597.57" y2="163.65" stroke="#a0a0a0" stroke-width="0.8"/>
<rect x="596.27" y="153.14" width="2.6" height="10.14" fill="#1e88ff"/>
<line x1="600.4" y1="158.8" x2="600.4" y2="171.59" stroke="#a0a0a0" stroke-width="0.8"/>
<rect x="599.4" y="159.65" width="2.0" height="2.37" fill="#1c1c1c" stroke="#a8a8a8" stroke-width="0.7"/>
<line x1="603.24" y1="151.39" x2="603.24" y2="159.5" stroke="#a0a0a0" stroke-width="0.8"/>
<rect x="602.24" y="153.02" width="2.0" height="6.11" fill="#1c1c1c" stroke="#a8a8a8" stroke-width="0.7"/>
<line x1="606.07" y1="149.12" x2="606.07" y2="155.79" stroke="#a0a0a0" stroke-width="0.8"/>
<rect x="604.77" y="149.96" width="2.6" height="2.87" fill="#1e88ff"/>
<line x1="608.9" y1="145.09" x2="608.9" y2="151.45" stroke="#a0a0a0" stroke-width="0.8"/>
<rect x="607.9" y="151.4" width="2.0" height="0.4" fill="#1c1c1c" stroke="#a8a8a8" stroke-width="0.7"/>
<line x1="611.73" y1="149.02" x2="611.73" y2="155.8" stroke="#a0a0a0" stroke-width="0.8"/>
<rect x="610.73" y="150.6" width="2.0" height="0.4" fill="#1c1c1c" stroke="#a8a8a8" stroke-width="0.7"/>
<line x1="614.56" y1="140.25" x2="614.56" y2="148.75" stroke="#a0a0a0" stroke-width="0.8"/>
<rect x="613.56" y="140.89" width="2.0" height="5.71" fill="#1c1c1c" stroke="#a8a8a8" stroke-width="0.7"/>
<line x1="617.4" y1="136.18" x2="617.4" y2="140.27" stroke="#a0a0a0" stroke-width="0.8"/>
<rect x="616.1" y="138.69" width="2.6" height="1.03" fill="#1e88ff"/>
<line x1="620.23" y1="133.32" x2="620.23" y2="138.7" stroke="#a0a0a0" stroke-width="0.8"/>
<rect x="619.23" y="135.04" width="2.0" height="3.07" fill="#1c1c1c" stroke="#a8a8a8" stroke-width="0.7"/>
<line x1="623.06" y1="132.29" x2="623.06" y2="137.29" stroke="#a0a0a0" stroke-width="0.8"/>
<rect x="621.76" y="132.96" width="2.6" height="1.56" fill="#1e88ff"/>
<line x1="625.89" y1="130.68" x2="625.89" y2="139.29" stroke="#a0a0a0" stroke-width="0.8"/>
<rect x="624.59" y="130.68" width="2.6" height="7.56" fill="#1e88ff"/>
<line x1="628.72" y1="134.59" x2="628.72" y2="143.12" stroke="#a0a0a0" stroke-width="0.8"/>
<rect x="627.42" y="136.94" width="2.6" height="2.87" fill="#1e88ff"/>
<line x1="631.56" y1="127.18" x2="631.56" y2="146.81" stroke="#a0a0a0" stroke-width="0.8"/>
<rect x="630.26" y="127.18" width="2.6" height="17.26" fill="#1e88ff"/>
<line x1="634.39" y1="154.56" x2="634.39" y2="169.4" stroke="#a0a0a0" stroke-width="0.8"/>
<rect x="633.09" y="154.76" width="2.6" height="9.65" fill="#1e88ff"/>
<line x1="637.22" y1="146.26" x2="637.22" y2="157.77" stroke="#a0a0a0" stroke-width="0.8"/>
<rect x="636.22" y="146.6" width="2.0" height="10.87" fill="#1c1c1c" stroke="#a8a8a8" stroke-width="0.7"/>
<line x1="640.05" y1="143.05" x2="640.05" y2="154.25" stroke="#a0a0a0" stroke-width="0.8"/>
<rect x="638.75" y="145.02" width="2.6" height="7.34" fill="#1e88ff"/>
<line x1="642.88" y1="141.79" x2="642.88" y2="151.14" stroke="#a0a0a0" stroke-width="0.8"/>
<rect x="641.88" y="143.62" width="2.0" height="6.43" fill="#1c1c1c" stroke="#a8a8a8" stroke-width="0.7"/>
<line x1="645.72" y1="137.08" x2="645.72" y2="149.98" stroke="#a0a0a0" stroke-width="0.8"/>
<rect x="644.42" y="137.5" width="2.6" height="6.82" fill="#1e88ff"/>
<line x1="648.55" y1="133.45" x2="648.55" y2="140.46" stroke="#a0a0a0" stroke-width="0.8"/>
<rect x="647.55" y="134.88" width="2.0" height="5.28" fill="#1c1c1c" stroke="#a8a8a8" stroke-width="0.7"/>
<line x1="651.38" y1="131.89" x2="651.38" y2="139.41" stroke="#a0a0a0" stroke-width="0.8"/>
<rect x="650.08" y="134.54" width="2.6" height="3.2" fill="#1e88ff"/>
<line x1="654.21" y1="123.33" x2="654.21" y2="135.31" stroke="#a0a0a0" stroke-width="0.8"/>
<rect x="653.21" y="123.79" width="2.0" height="8.9" fill="#1c1c1c" stroke="#a8a8a8" stroke-width="0.7"/>
<line x1="657.04" y1="116.68" x2="657.04" y2="122.59" stroke="#a0a0a0" stroke-width="0.8"/>
<rect x="656.04" y="119.68" width="2.0" height="0.55" fill="#1c1c1c" stroke="#a8a8a8" stroke-width="0.7"/>
<line x1="659.88" y1="118.02" x2="659.88" y2="124.41" stroke="#a0a0a0" stroke-width="0.8"/>
<rect x="658.88" y="119.3" width="2.0" height="2.41" fill="#1c1c1c" stroke="#a8a8a8" stroke-width="0.7"/>
<line x1="662.71" y1="116.48" x2="662.71" y2="123.63" stroke="#a0a0a0" stroke-width="0.8"/>
<rect x="661.41" y="116.96" width="2.6" height="5.73" fill="#1e88ff"/>
<line x1="665.54" y1="121.6" x2="665.54" y2="125.13" stroke="#a0a0a0" stroke-width="0.8"/>
<rect x="664.54" y="123.12" width="2.0" height="0.4" fill="#1c1c1c" stroke="#a8a8a8" stroke-width="0.7"/>
<line x1="668.37" y1="121.32" x2="668.37" y2="132.47" stroke="#a0a0a0" stroke-width="0.8"/>
<rect x="667.07" y="123.52" width="2.6" height="6.74" fill="#1e88ff"/>
<line x1="671.2" y1="130.92" x2="671.2" y2="143.56" stroke="#a0a0a0" stroke-width="0.8"/>
<rect x="669.9" y="131.05" width="2.6" height="2.28" fill="#1e88ff"/>
<line x1="674.04" y1="133.86" x2="674.04" y2="140.26" stroke="#a0a0a0" stroke-width="0.8"/>
<rect x="672.74" y="135.68" width="2.6" height="2.69" fill="#1e88ff"/>
<line x1="676.87" y1="116.54" x2="676.87" y2="135.62" stroke="#a0a0a0" stroke-width="0.8"/>
<rect x="675.87" y="119.62" width="2.0" height="15.71" fill="#1c1c1c" stroke="#a8a8a8" stroke-width="0.7"/>
<line x1="679.7" y1="119.32" x2="679.7" y2="125" stroke="#a0a0a0" stroke-width="0.8"/>
<rect x="678.4" y="121.14" width="2.6" height="3.61" fill="#1e88ff"/>
<line x1="682.53" y1="118.22" x2="682.53" y2="125.17" stroke="#a0a0a0" stroke-width="0.8"/>
<rect x="681.53" y="119.81" width="2.0" height="4.26" fill="#1c1c1c" stroke="#a8a8a8" stroke-width="0.7"/>
<line x1="685.36" y1="115.14" x2="685.36" y2="121.67" stroke="#a0a0a0" stroke-width="0.8"/>
<rect x="684.36" y="116.76" width="2.0" height="3.3" fill="#1c1c1c" stroke="#a8a8a8" stroke-width="0.7"/>
<line x1="688.2" y1="112.21" x2="688.2" y2="120.04" stroke="#a0a0a0" stroke-width="0.8"/>
<rect x="687.2" y="112.73" width="2.0" height="1.79" fill="#1c1c1c" stroke="#a8a8a8" stroke-width="0.7"/>
<line x1="691.03" y1="113.17" x2="691.03" y2="123.18" stroke="#a0a0a0" stroke-width="0.8"/>
<rect x="689.73" y="113.79" width="2.6" height="6.84" fill="#1e88ff"/>
<line x1="693.86" y1="129.24" x2="693.86" y2="140.27" stroke="#a0a0a0" stroke-width="0.8"/>
<rect x="692.86" y="129.74" width="2.0" height="2.16" fill="#1c1c1c" stroke="#a8a8a8" stroke-width="0.7"/>
<line x1="696.69" y1="121.93" x2="696.69" y2="129.31" stroke="#a0a0a0" stroke-width="0.8"/>
<rect x="695.69" y="123.29" width="2.0" height="0.4" fill="#1c1c1c" stroke="#a8a8a8" stroke-width="0.7"/>
<line x1="699.52" y1="112.3" x2="699.52" y2="123.42" stroke="#a0a0a0" stroke-width="0.8"/>
<rect x="698.52" y="112.69" width="2.0" height="9.66" fill="#1c1c1c" stroke="#a8a8a8" stroke-width="0.7"/>
<line x1="702.36" y1="106.37" x2="702.36" y2="123.84" stroke="#a0a0a0" stroke-width="0.8"/>
<rect x="701.06" y="107.07" width="2.6" height="9.37" fill="#1e88ff"/>
</g>
<line x1="714.5" y1="74" x2="714.5" y2="474" stroke="#a0a0a0" stroke-width="1"/>
<line x1="0" y1="473.5" x2="714.5" y2="473.5" stroke="#9a9a9a" stroke-width="1"/>
<path d="M714.8 111.2 L718 112.8 L714.8 114.4 Z" fill="#eee"/>
<path d="M714.8 209.7 L718 211.3 L714.8 212.9 Z" fill="#eee"/>
<path d="M714.8 308.2 L718 309.8 L714.8 311.4 Z" fill="#eee"/>
<path d="M714.8 406.7 L718 408.3 L714.8 409.9 Z" fill="#eee"/>
<text x="717.8" y="213.4" font-size="6" fill="#d8d8d8" font-weight="normal" textLength="11" lengthAdjust="spacingAndGlyphs" >6000</text>
<text x="717.8" y="311.9" font-size="6" fill="#d8d8d8" font-weight="normal" textLength="11" lengthAdjust="spacingAndGlyphs" >5500</text>
<text x="717.8" y="410.4" font-size="6" fill="#d8d8d8" font-weight="normal" textLength="11" lengthAdjust="spacingAndGlyphs" >5000</text>
<text x="717.8" y="114.4" font-size="6" fill="#d8d8d8" font-weight="normal" textLength="11" lengthAdjust="spacingAndGlyphs" >6500</text>
<line x1="714.6" y1="162.05" x2="716.2" y2="162.05" stroke="#aaa" stroke-width="0.8"/>
<line x1="714.6" y1="260.55" x2="716.2" y2="260.55" stroke="#aaa" stroke-width="0.8"/>
<line x1="714.6" y1="359.05" x2="716.2" y2="359.05" stroke="#aaa" stroke-width="0.8"/>
<line x1="714.6" y1="457.55" x2="716.2" y2="457.55" stroke="#aaa" stroke-width="0.8"/>
<path d="M715.6 116.44 L718.2 113.54 H736 V119.34 H718.2 Z" fill="#f2f2f2"/>
<text x="719.2" y="118.44" font-size="5.6" fill="#333" font-weight="normal" textLength="16.3" lengthAdjust="spacingAndGlyphs" >6481.50</text>
<path d="M715.6 142.44 L718.2 139.54 H736 V145.34 H718.2 Z" fill="#e020b0"/>
<text x="719.2" y="144.44" font-size="5.6" fill="#f8e0f0" font-weight="normal" textLength="16.3" lengthAdjust="spacingAndGlyphs" >6349.55</text>
<path d="M715.6 198.62 L718.2 195.72 H736 V201.52 H718.2 Z" fill="#1fa030"/>
<text x="719.2" y="200.62" font-size="5.6" fill="#e0ffe0" font-weight="normal" textLength="16.3" lengthAdjust="spacingAndGlyphs" >6064.38</text>
<path d="M715.6 217.39 L718.2 214.49 H736 V220.29 H718.2 Z" fill="#f4e010"/>
<text x="719.2" y="219.39" font-size="5.6" fill="#333" font-weight="normal" textLength="16.3" lengthAdjust="spacingAndGlyphs" >5969.10</text>
<text x="14" y="478.8" font-size="5.5" fill="#b4b4b4" text-anchor="middle">Sep</text>
<text x="75" y="478.8" font-size="5.5" fill="#b4b4b4" text-anchor="middle">Oct</text>
<text x="136" y="478.8" font-size="5.5" fill="#b4b4b4" text-anchor="middle">Nov</text>
<text x="193.5" y="478.8" font-size="5.5" fill="#b4b4b4" text-anchor="middle">Dec</text>
<text x="251.8" y="478.8" font-size="5.5" fill="#b4b4b4" text-anchor="middle">Jan</text>
<text x="307.3" y="478.8" font-size="5.5" fill="#b4b4b4" text-anchor="middle">Feb</text>
<text x="363.8" y="478.8" font-size="5.5" fill="#b4b4b4" text-anchor="middle">Mar</text>
<text x="422.8" y="478.8" font-size="5.5" fill="#b4b4b4" text-anchor="middle">Apr</text>
<text x="482.5" y="478.8" font-size="5.5" fill="#b4b4b4" text-anchor="middle">May</text>
<text x="541" y="478.8" font-size="5.5" fill="#b4b4b4" text-anchor="middle">Jun</text>
<text x="600" y="478.8" font-size="5.5" fill="#b4b4b4" text-anchor="middle">Jul</text>
<text x="661" y="478.8" font-size="5.5" fill="#b4b4b4" text-anchor="middle">Aug</text>
<text x="111.6" y="485.1" font-size="5.6" fill="#b4b4b4" text-anchor="middle">2024</text>
<text x="468.8" y="485.1" font-size="5.6" fill="#b4b4b4" text-anchor="middle">2025</text>
<rect x="42" y="472.8" width="1" height="1.4" fill="#cfcfcf"/>
<rect x="107.14" y="472.8" width="1" height="1.4" fill="#cfcfcf"/>
<rect x="163.78" y="472.8" width="1" height="1.4" fill="#cfcfcf"/>
<rect x="223.25" y="472.8" width="1" height="1.4" fill="#cfcfcf"/>
<rect x="279.89" y="472.8" width="1" height="1.4" fill="#cfcfcf"/>
<rect x="333.7" y="472.8" width="1" height="1.4" fill="#cfcfcf"/>
<rect x="393.17" y="472.8" width="1" height="1.4" fill="#cfcfcf"/>
<rect x="452.64" y="472.8" width="1" height="1.4" fill="#cfcfcf"/>
<rect x="512.11" y="472.8" width="1" height="1.4" fill="#cfcfcf"/>
<rect x="568.75" y="472.8" width="1" height="1.4" fill="#cfcfcf"/>
<rect x="631.06" y="472.8" width="1" height="1.4" fill="#cfcfcf"/>
<rect x="690.53" y="472.8" width="1" height="1.4" fill="#cfcfcf"/>
<rect x="1.7" y="76" width="88.6" height="47.4" fill="#141414"/>
<rect x="8" y="79.2" width="4.7" height="4.3" fill="#ffffff"/>
<text x="14.1" y="83.6" font-size="6" fill="#c4c4c4" font-weight="normal" textLength="23.8" lengthAdjust="spacingAndGlyphs" >Last Price</text>
<text x="70" y="83.6" font-size="6" fill="#c4c4c4" font-weight="normal" textLength="17.8" lengthAdjust="spacingAndGlyphs" >6481.50</text>
<text x="14.1" y="89.7" font-size="6" fill="#c4c4c4" font-weight="normal" textLength="40.7" lengthAdjust="spacingAndGlyphs" >High on 09/05/25</text>
<text x="70" y="89.7" font-size="6" fill="#c4c4c4" font-weight="normal" textLength="17.8" lengthAdjust="spacingAndGlyphs" >6532.65</text>
<text x="14.1" y="95.8" font-size="6" fill="#c4c4c4" font-weight="normal" textLength="18" lengthAdjust="spacingAndGlyphs" >Average</text>
<text x="70" y="95.8" font-size="6" fill="#c4c4c4" font-weight="normal" textLength="17.8" lengthAdjust="spacingAndGlyphs" >5929.92</text>
<text x="14.1" y="101.9" font-size="6" fill="#c4c4c4" font-weight="normal" textLength="40.1" lengthAdjust="spacingAndGlyphs" >Low on 04/07/25</text>
<text x="70" y="101.9" font-size="6" fill="#c4c4c4" font-weight="normal" textLength="17.8" lengthAdjust="spacingAndGlyphs" >4835.04</text>
<rect x="8" y="103.7" width="4.7" height="4.3" fill="#e020b0"/>
<text x="14.1" y="108.1" font-size="6" fill="#c4c4c4" font-weight="normal" textLength="27.3" lengthAdjust="spacingAndGlyphs" >SMAVG (50)</text>
<text x="45" y="108.1" font-size="6" fill="#c4c4c4" font-weight="normal" textLength="20" lengthAdjust="spacingAndGlyphs" >on Close</text>
<text x="70" y="108.1" font-size="6" fill="#c4c4c4" font-weight="normal" textLength="17.8" lengthAdjust="spacingAndGlyphs" >6349.55</text>
<rect x="8" y="109.8" width="4.7" height="4.3" fill="#1aa030"/>
<text x="14.1" y="114.2" font-size="6" fill="#c4c4c4" font-weight="normal" textLength="29.7" lengthAdjust="spacingAndGlyphs" >SMAVG (100)</text>
<text x="47.9" y="114.2" font-size="6" fill="#c4c4c4" font-weight="normal" textLength="20" lengthAdjust="spacingAndGlyphs" >on Close</text>
<text x="70" y="114.2" font-size="6" fill="#c4c4c4" font-weight="normal" textLength="17.8" lengthAdjust="spacingAndGlyphs" >6064.38</text>
<rect x="8" y="115.8" width="4.7" height="4.3" fill="#f0e000"/>
<text x="14.1" y="120.2" font-size="6" fill="#c4c4c4" font-weight="normal" textLength="29.7" lengthAdjust="spacingAndGlyphs" >SMAVG (200)</text>
<text x="47.9" y="120.2" font-size="6" fill="#c4c4c4" font-weight="normal" textLength="20" lengthAdjust="spacingAndGlyphs" >on Close</text>
<text x="70" y="120.2" font-size="6" fill="#c4c4c4" font-weight="normal" textLength="17.8" lengthAdjust="spacingAndGlyphs" >5969.10</text>
<circle cx="5.4" cy="81.2" r="1.3" fill="none" stroke="#666" stroke-width="0.6"/>
<line x1="5.4" y1="83" x2="5.4" y2="121" stroke="#555" stroke-width="0.6" stroke-dasharray="0.8 1.4"/>
<path d="M9 85.6 H12 M10.5 85.6 V89.6" stroke="#888" stroke-width="0.7"/>
<path d="M9 93.8 H12 M10.5 92.8 V94.8" stroke="#888" stroke-width="0.7"/>
<path d="M9 101.6 H12 M10.5 97.6 V101.6" stroke="#888" stroke-width="0.7"/>
<text class="m" x="74.9" y="493.8" font-size="8.33" fill="#f4f4f4" xml:space="preserve" style="white-space:pre">Australia 61 2 9777 8600 Brazil 5511 2395 9000 Europe 44 20 7330 7500 Germany 49 69 9204 1210 Hong Kong 852 2977 6000</text>
<text class="m" x="74.9" y="503.6" font-size="8.33" fill="#f4f4f4" xml:space="preserve" style="white-space:pre">Japan 81 3 4565 8900      Singapore 65 6212 1000      U.S. 1 212 318 2000       Copyright 2025 Bloomberg Finance L.P.</text>
<text class="m" x="74.9" y="513.4" font-size="8.33" fill="#f4f4f4" xml:space="preserve" style="white-space:pre">                                                                           SN 3379190 EDT  GMT-4:00 ba1462-173 07-Sep-2025 11:11:58</text>
</svg></body></html>
